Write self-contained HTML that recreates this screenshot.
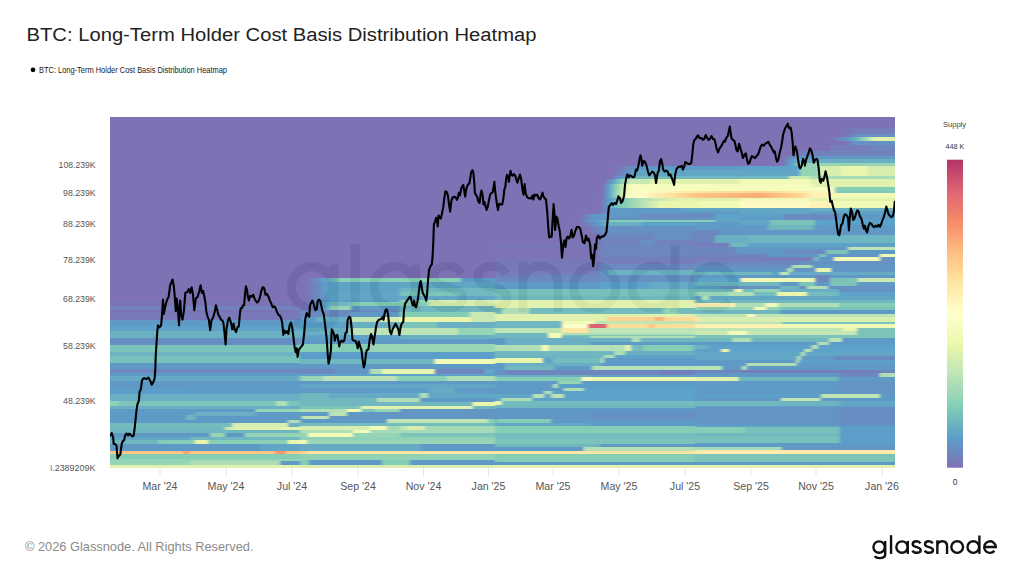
<!DOCTYPE html>
<html><head><meta charset="utf-8"><style>
html,body{margin:0;padding:0;background:#fff;}
body{width:1024px;height:576px;overflow:hidden;position:relative;font-family:"Liberation Sans",sans-serif;}
svg{position:absolute;left:0;top:0;}
</style></head><body>
<svg shape-rendering="auto" width="1024" height="576" viewBox="0 0 1024 576">
<defs><linearGradient id="g17" x1="0" x2="1" y1="0" y2="0"><stop offset="0.0000" stop-color="#3386bc"/><stop offset="0.4313" stop-color="#3386bc"/><stop offset="0.4405" stop-color="#3781ba"/><stop offset="1.0000" stop-color="#3781ba"/></linearGradient>
<linearGradient id="g19" x1="0" x2="1" y1="0" y2="0"><stop offset="0.0000" stop-color="#74c7a5"/><stop offset="0.0672" stop-color="#74c7a5"/><stop offset="0.0764" stop-color="#5cb6aa"/><stop offset="0.8723" stop-color="#5cb6aa"/><stop offset="0.8815" stop-color="#9dd8a4"/><stop offset="0.9287" stop-color="#9dd8a4"/><stop offset="0.9379" stop-color="#5cb6aa"/><stop offset="1.0000" stop-color="#5cb6aa"/></linearGradient>
<linearGradient id="g21" x1="0" x2="1" y1="0" y2="0"><stop offset="0.0000" stop-color="#3781ba"/><stop offset="0.7677" stop-color="#3781ba"/><stop offset="0.7769" stop-color="#7bcaa5"/><stop offset="1.0000" stop-color="#7bcaa5"/></linearGradient>
<linearGradient id="g22" x1="0" x2="1" y1="0" y2="0"><stop offset="0.0000" stop-color="#3781ba"/><stop offset="0.4569" stop-color="#3781ba"/><stop offset="0.4662" stop-color="#449cb5"/><stop offset="0.7677" stop-color="#449cb5"/><stop offset="0.7769" stop-color="#3781ba"/><stop offset="1.0000" stop-color="#3781ba"/></linearGradient>
<linearGradient id="g23" x1="0" x2="1" y1="0" y2="0"><stop offset="0.0000" stop-color="#3781ba"/><stop offset="0.4108" stop-color="#3781ba"/><stop offset="0.4200" stop-color="#4da6b0"/><stop offset="0.4569" stop-color="#4da6b0"/><stop offset="0.4662" stop-color="#449cb5"/><stop offset="0.7677" stop-color="#449cb5"/><stop offset="0.7769" stop-color="#3781ba"/><stop offset="1.0000" stop-color="#3781ba"/></linearGradient>
<linearGradient id="g24" x1="0" x2="1" y1="0" y2="0"><stop offset="0.0000" stop-color="#3781ba"/><stop offset="0.4108" stop-color="#3781ba"/><stop offset="0.4200" stop-color="#4da6b0"/><stop offset="0.4569" stop-color="#4da6b0"/><stop offset="0.4662" stop-color="#3781ba"/><stop offset="1.0000" stop-color="#3781ba"/></linearGradient>
<linearGradient id="g25" x1="0" x2="1" y1="0" y2="0"><stop offset="0.0000" stop-color="#3781ba"/><stop offset="0.9338" stop-color="#3781ba"/><stop offset="0.9431" stop-color="#9dd8a4"/><stop offset="1.0000" stop-color="#9dd8a4"/></linearGradient>
<linearGradient id="g26" x1="0" x2="1" y1="0" y2="0"><stop offset="0.0000" stop-color="#52acae"/><stop offset="0.6467" stop-color="#52acae"/><stop offset="0.6559" stop-color="#ceeb9d"/><stop offset="0.9338" stop-color="#ceeb9d"/><stop offset="0.9431" stop-color="#449cb5"/><stop offset="1.0000" stop-color="#449cb5"/></linearGradient>
<linearGradient id="g27" x1="0" x2="1" y1="0" y2="0"><stop offset="0.0000" stop-color="#4da6b0"/><stop offset="0.6108" stop-color="#4da6b0"/><stop offset="0.6200" stop-color="#bde4a0"/><stop offset="0.6518" stop-color="#bde4a0"/><stop offset="0.6610" stop-color="#daf09a"/><stop offset="1.0000" stop-color="#daf09a"/></linearGradient>
<linearGradient id="g29" x1="0" x2="1" y1="0" y2="0"><stop offset="0.0000" stop-color="#3781ba"/><stop offset="0.5338" stop-color="#3781ba"/><stop offset="0.5431" stop-color="#7bcaa5"/><stop offset="0.6108" stop-color="#7bcaa5"/><stop offset="0.6200" stop-color="#3781ba"/><stop offset="0.7133" stop-color="#3781ba"/><stop offset="0.7226" stop-color="#7bcaa5"/><stop offset="1.0000" stop-color="#7bcaa5"/></linearGradient>
<linearGradient id="g30" x1="0" x2="1" y1="0" y2="0"><stop offset="0.0000" stop-color="#3a91b9"/><stop offset="0.4313" stop-color="#3a91b9"/><stop offset="0.4405" stop-color="#4da6b0"/><stop offset="1.0000" stop-color="#4da6b0"/></linearGradient>
<linearGradient id="g31" x1="0" x2="1" y1="0" y2="0"><stop offset="0.0000" stop-color="#4da6b0"/><stop offset="0.2672" stop-color="#4da6b0"/><stop offset="0.2764" stop-color="#66c2a5"/><stop offset="0.4569" stop-color="#66c2a5"/><stop offset="0.4662" stop-color="#e7f599"/><stop offset="0.5236" stop-color="#e7f599"/><stop offset="0.5328" stop-color="#6dc5a5"/><stop offset="0.9338" stop-color="#6dc5a5"/><stop offset="0.9431" stop-color="#e7f599"/><stop offset="1.0000" stop-color="#e7f599"/></linearGradient>
<linearGradient id="g32" x1="0" x2="1" y1="0" y2="0"><stop offset="0.0000" stop-color="#3781ba"/><stop offset="0.8005" stop-color="#3781ba"/><stop offset="0.8097" stop-color="#3a91b9"/><stop offset="1.0000" stop-color="#3a91b9"/></linearGradient>
<linearGradient id="g33" x1="0" x2="1" y1="0" y2="0"><stop offset="0.0000" stop-color="#fdb869"/><stop offset="0.3954" stop-color="#fdb869"/><stop offset="0.4046" stop-color="#f8874f"/><stop offset="0.4262" stop-color="#f8874f"/><stop offset="0.4354" stop-color="#fdb869"/><stop offset="0.8672" stop-color="#fdb869"/><stop offset="0.8764" stop-color="#f67a49"/><stop offset="0.9236" stop-color="#f67a49"/><stop offset="0.9328" stop-color="#fdb869"/><stop offset="1.0000" stop-color="#fdb869"/></linearGradient>
<linearGradient id="g36" x1="0" x2="1" y1="0" y2="0"><stop offset="0.0000" stop-color="#7bcaa5"/><stop offset="0.4313" stop-color="#7bcaa5"/><stop offset="0.4405" stop-color="#9dd8a4"/><stop offset="0.8928" stop-color="#9dd8a4"/><stop offset="0.9021" stop-color="#3781ba"/><stop offset="1.0000" stop-color="#3781ba"/></linearGradient>
<linearGradient id="g38" x1="0" x2="1" y1="0" y2="0"><stop offset="0.0000" stop-color="#5e4fa2"/><stop offset="0.0317" stop-color="#4f62ab"/><stop offset="0.0634" stop-color="#4175b4"/><stop offset="0.0951" stop-color="#3288bd"/><stop offset="0.1268" stop-color="#449cb5"/><stop offset="0.1363" stop-color="#4da6b0"/><stop offset="0.1637" stop-color="#4da6b0"/><stop offset="0.1732" stop-color="#6dc5a5"/><stop offset="0.8163" stop-color="#6dc5a5"/><stop offset="0.8258" stop-color="#3781ba"/><stop offset="1.0000" stop-color="#3781ba"/></linearGradient>
<linearGradient id="g39" x1="0" x2="1" y1="0" y2="0"><stop offset="0.0000" stop-color="#5e4fa2"/><stop offset="0.0317" stop-color="#525ea9"/><stop offset="0.0634" stop-color="#476db0"/><stop offset="0.0951" stop-color="#3b7cb7"/><stop offset="0.1268" stop-color="#358cbb"/><stop offset="0.1363" stop-color="#388eba"/><stop offset="0.4953" stop-color="#388eba"/><stop offset="0.5047" stop-color="#3a91b9"/><stop offset="1.0000" stop-color="#3a91b9"/></linearGradient>
<linearGradient id="g40" x1="0" x2="1" y1="0" y2="0"><stop offset="0.0000" stop-color="#5e4fa2"/><stop offset="0.0317" stop-color="#525ea9"/><stop offset="0.0634" stop-color="#476db0"/><stop offset="0.0951" stop-color="#3b7cb7"/><stop offset="0.1268" stop-color="#358cbb"/><stop offset="0.1363" stop-color="#388eba"/><stop offset="0.4953" stop-color="#388eba"/><stop offset="0.5047" stop-color="#4da6b0"/><stop offset="1.0000" stop-color="#4da6b0"/></linearGradient>
<linearGradient id="g41" x1="0" x2="1" y1="0" y2="0"><stop offset="0.0000" stop-color="#5e4fa2"/><stop offset="0.0317" stop-color="#525ea9"/><stop offset="0.0634" stop-color="#476db0"/><stop offset="0.0951" stop-color="#3b7cb7"/><stop offset="0.1268" stop-color="#358cbb"/><stop offset="0.1363" stop-color="#3a91b9"/><stop offset="0.4953" stop-color="#3a91b9"/><stop offset="0.5047" stop-color="#5cb6aa"/><stop offset="0.8111" stop-color="#5cb6aa"/><stop offset="0.8205" stop-color="#4da6b0"/><stop offset="1.0000" stop-color="#4da6b0"/></linearGradient>
<linearGradient id="g42" x1="0" x2="1" y1="0" y2="0"><stop offset="0.0000" stop-color="#5e4fa2"/><stop offset="0.0317" stop-color="#525ea9"/><stop offset="0.0634" stop-color="#476db0"/><stop offset="0.0951" stop-color="#3b7cb7"/><stop offset="0.1268" stop-color="#358cbb"/><stop offset="0.1363" stop-color="#3a91b9"/><stop offset="0.4953" stop-color="#3a91b9"/><stop offset="0.5047" stop-color="#3a91b9"/><stop offset="1.0000" stop-color="#3a91b9"/></linearGradient>
<linearGradient id="g43" x1="0" x2="1" y1="0" y2="0"><stop offset="0.0000" stop-color="#5e4fa2"/><stop offset="0.0423" stop-color="#5160aa"/><stop offset="0.0846" stop-color="#4470b2"/><stop offset="0.1268" stop-color="#3781ba"/><stop offset="0.1363" stop-color="#358cbb"/><stop offset="0.4953" stop-color="#358cbb"/><stop offset="0.5047" stop-color="#7bcaa5"/><stop offset="0.6479" stop-color="#7bcaa5"/><stop offset="0.6574" stop-color="#ceeb9d"/><stop offset="1.0000" stop-color="#ceeb9d"/></linearGradient>
<linearGradient id="g44" x1="0" x2="1" y1="0" y2="0"><stop offset="0.0000" stop-color="#5e4fa2"/><stop offset="0.0317" stop-color="#4f62ab"/><stop offset="0.0634" stop-color="#4175b4"/><stop offset="0.0951" stop-color="#3288bd"/><stop offset="0.1268" stop-color="#449cb5"/><stop offset="0.1363" stop-color="#4da6b0"/><stop offset="0.2374" stop-color="#4da6b0"/><stop offset="0.2468" stop-color="#66c2a5"/><stop offset="0.6479" stop-color="#66c2a5"/><stop offset="0.6574" stop-color="#ceeb9d"/><stop offset="1.0000" stop-color="#ceeb9d"/></linearGradient>
<linearGradient id="g45" x1="0" x2="1" y1="0" y2="0"><stop offset="0.0000" stop-color="#5e4fa2"/><stop offset="0.0317" stop-color="#4f62ab"/><stop offset="0.0634" stop-color="#4175b4"/><stop offset="0.0951" stop-color="#3288bd"/><stop offset="0.1268" stop-color="#449cb5"/><stop offset="0.1363" stop-color="#7bcaa5"/><stop offset="0.2374" stop-color="#7bcaa5"/><stop offset="0.2468" stop-color="#3781ba"/><stop offset="0.4953" stop-color="#3781ba"/><stop offset="0.5047" stop-color="#4da6b0"/><stop offset="1.0000" stop-color="#4da6b0"/></linearGradient>
<linearGradient id="g46" x1="0" x2="1" y1="0" y2="0"><stop offset="0.0000" stop-color="#476db0"/><stop offset="0.5082" stop-color="#476db0"/><stop offset="0.5174" stop-color="#4da6b0"/><stop offset="1.0000" stop-color="#4da6b0"/></linearGradient>
<linearGradient id="g47" x1="0" x2="1" y1="0" y2="0"><stop offset="0.0000" stop-color="#476db0"/><stop offset="0.2518" stop-color="#476db0"/><stop offset="0.2610" stop-color="#3781ba"/><stop offset="0.5082" stop-color="#3781ba"/><stop offset="0.5174" stop-color="#66c2a5"/><stop offset="0.8672" stop-color="#66c2a5"/><stop offset="0.8764" stop-color="#bde4a0"/><stop offset="1.0000" stop-color="#bde4a0"/></linearGradient>
<linearGradient id="g48" x1="0" x2="1" y1="0" y2="0"><stop offset="0.0000" stop-color="#3781ba"/><stop offset="0.0774" stop-color="#3781ba"/><stop offset="0.0867" stop-color="#449cb5"/><stop offset="0.2518" stop-color="#449cb5"/><stop offset="0.2610" stop-color="#b1dfa3"/><stop offset="0.4159" stop-color="#b1dfa3"/><stop offset="0.4251" stop-color="#ceeb9d"/><stop offset="0.5082" stop-color="#ceeb9d"/><stop offset="0.5174" stop-color="#e7f599"/><stop offset="0.8723" stop-color="#e7f599"/><stop offset="0.8815" stop-color="#bde4a0"/><stop offset="1.0000" stop-color="#bde4a0"/></linearGradient>
<linearGradient id="g49" x1="0" x2="1" y1="0" y2="0"><stop offset="0.0000" stop-color="#358cbb"/><stop offset="0.2518" stop-color="#358cbb"/><stop offset="0.2610" stop-color="#449cb5"/><stop offset="0.5082" stop-color="#449cb5"/><stop offset="0.5174" stop-color="#5cb6aa"/><stop offset="0.6979" stop-color="#5cb6aa"/><stop offset="0.7072" stop-color="#449cb5"/><stop offset="1.0000" stop-color="#449cb5"/></linearGradient>
<linearGradient id="g50" x1="0" x2="1" y1="0" y2="0"><stop offset="0.0000" stop-color="#449cb5"/><stop offset="0.2518" stop-color="#449cb5"/><stop offset="0.2610" stop-color="#abdda4"/><stop offset="0.8056" stop-color="#abdda4"/><stop offset="0.8149" stop-color="#7bcaa5"/><stop offset="1.0000" stop-color="#7bcaa5"/></linearGradient>
<linearGradient id="g51" x1="0" x2="1" y1="0" y2="0"><stop offset="0.0000" stop-color="#358cbb"/><stop offset="0.5082" stop-color="#358cbb"/><stop offset="0.5174" stop-color="#449cb5"/><stop offset="1.0000" stop-color="#449cb5"/></linearGradient>
<linearGradient id="g53" x1="0" x2="1" y1="0" y2="0"><stop offset="0.0000" stop-color="#66c2a5"/><stop offset="0.3544" stop-color="#66c2a5"/><stop offset="0.3636" stop-color="#82cda5"/><stop offset="1.0000" stop-color="#82cda5"/></linearGradient>
<linearGradient id="g55" x1="0" x2="1" y1="0" y2="0"><stop offset="0.0000" stop-color="#4da6b0"/><stop offset="0.6856" stop-color="#4da6b0"/><stop offset="0.6949" stop-color="#eff9a6"/><stop offset="1.0000" stop-color="#eff9a6"/></linearGradient>
<linearGradient id="g57" x1="0" x2="1" y1="0" y2="0"><stop offset="0.0000" stop-color="#4b68ae"/><stop offset="0.1749" stop-color="#4b68ae"/><stop offset="0.1841" stop-color="#3b7cb7"/><stop offset="0.3544" stop-color="#3b7cb7"/><stop offset="0.3636" stop-color="#9dd8a4"/><stop offset="0.4159" stop-color="#9dd8a4"/><stop offset="0.4251" stop-color="#e1f399"/><stop offset="0.6856" stop-color="#e1f399"/><stop offset="0.6949" stop-color="#4b68ae"/><stop offset="0.9410" stop-color="#4b68ae"/><stop offset="0.9503" stop-color="#3a91b9"/><stop offset="1.0000" stop-color="#3a91b9"/></linearGradient>
<linearGradient id="g59" x1="0" x2="1" y1="0" y2="0"><stop offset="0.0000" stop-color="#7bcaa5"/><stop offset="0.1133" stop-color="#7bcaa5"/><stop offset="0.1226" stop-color="#abdda4"/><stop offset="0.4928" stop-color="#abdda4"/><stop offset="0.5021" stop-color="#6dc5a5"/><stop offset="0.7492" stop-color="#6dc5a5"/><stop offset="0.7585" stop-color="#9dd8a4"/><stop offset="1.0000" stop-color="#9dd8a4"/></linearGradient>
<linearGradient id="g62" x1="0" x2="1" y1="0" y2="0"><stop offset="0.0000" stop-color="#3781ba"/><stop offset="0.3544" stop-color="#3781ba"/><stop offset="0.3636" stop-color="#3386bc"/><stop offset="0.6621" stop-color="#3386bc"/><stop offset="0.6713" stop-color="#3f96b7"/><stop offset="0.7903" stop-color="#3f96b7"/><stop offset="0.7995" stop-color="#3781ba"/><stop offset="1.0000" stop-color="#3781ba"/></linearGradient>
<linearGradient id="g63" x1="0" x2="1" y1="0" y2="0"><stop offset="0.0000" stop-color="#4da6b0"/><stop offset="0.1441" stop-color="#4da6b0"/><stop offset="0.1533" stop-color="#3f96b7"/><stop offset="0.6108" stop-color="#3f96b7"/><stop offset="0.6200" stop-color="#9dd8a4"/><stop offset="0.6518" stop-color="#9dd8a4"/><stop offset="0.6610" stop-color="#3a91b9"/><stop offset="1.0000" stop-color="#3a91b9"/></linearGradient>
<linearGradient id="g64" x1="0" x2="1" y1="0" y2="0"><stop offset="0.0000" stop-color="#4da6b0"/><stop offset="0.3903" stop-color="#4da6b0"/><stop offset="0.3995" stop-color="#9dd8a4"/><stop offset="0.6108" stop-color="#9dd8a4"/><stop offset="0.6200" stop-color="#3781ba"/><stop offset="1.0000" stop-color="#3781ba"/></linearGradient>
<linearGradient id="g65" x1="0" x2="1" y1="0" y2="0"><stop offset="0.0000" stop-color="#4da6b0"/><stop offset="0.8810" stop-color="#4da6b0"/><stop offset="0.8903" stop-color="#e7f599"/><stop offset="1.0000" stop-color="#e7f599"/></linearGradient>
<linearGradient id="g66" x1="0" x2="1" y1="0" y2="0"><stop offset="0.0000" stop-color="#5cb6aa"/><stop offset="0.3082" stop-color="#5cb6aa"/><stop offset="0.3174" stop-color="#daf09a"/><stop offset="0.8810" stop-color="#daf09a"/><stop offset="0.8903" stop-color="#4da6b0"/><stop offset="1.0000" stop-color="#4da6b0"/></linearGradient>
<linearGradient id="g67" x1="0" x2="1" y1="0" y2="0"><stop offset="0.0000" stop-color="#9dd8a4"/><stop offset="0.2364" stop-color="#9dd8a4"/><stop offset="0.2456" stop-color="#eff9a6"/><stop offset="0.3082" stop-color="#eff9a6"/><stop offset="0.3174" stop-color="#5cb6aa"/><stop offset="0.3800" stop-color="#5cb6aa"/><stop offset="0.3892" stop-color="#7bcaa5"/><stop offset="0.5082" stop-color="#7bcaa5"/><stop offset="0.5174" stop-color="#3b7cb7"/><stop offset="1.0000" stop-color="#3b7cb7"/></linearGradient>
<linearGradient id="g68" x1="0" x2="1" y1="0" y2="0"><stop offset="0.0000" stop-color="#3781ba"/><stop offset="0.1441" stop-color="#3781ba"/><stop offset="0.1533" stop-color="#abdda4"/><stop offset="0.2364" stop-color="#abdda4"/><stop offset="0.2456" stop-color="#3b7cb7"/><stop offset="1.0000" stop-color="#3b7cb7"/></linearGradient>
<linearGradient id="g69" x1="0" x2="1" y1="0" y2="0"><stop offset="0.0000" stop-color="#3781ba"/><stop offset="0.0056" stop-color="#3781ba"/><stop offset="0.0149" stop-color="#b1dfa3"/><stop offset="0.1441" stop-color="#b1dfa3"/><stop offset="0.1533" stop-color="#3b7cb7"/><stop offset="1.0000" stop-color="#3b7cb7"/></linearGradient>
<linearGradient id="g70" x1="0" x2="1" y1="0" y2="0"><stop offset="0.0000" stop-color="#3781ba"/><stop offset="0.4415" stop-color="#3781ba"/><stop offset="0.4508" stop-color="#b1dfa3"/><stop offset="0.9595" stop-color="#b1dfa3"/><stop offset="0.9687" stop-color="#66c2a5"/><stop offset="1.0000" stop-color="#66c2a5"/></linearGradient>
<linearGradient id="g72" x1="0" x2="1" y1="0" y2="0"><stop offset="0.0000" stop-color="#ceeb9d"/><stop offset="0.3544" stop-color="#ceeb9d"/><stop offset="0.3636" stop-color="#eff9a6"/><stop offset="0.4415" stop-color="#eff9a6"/><stop offset="0.4508" stop-color="#8fd2a4"/><stop offset="0.5082" stop-color="#8fd2a4"/><stop offset="0.5174" stop-color="#b1dfa3"/><stop offset="0.5441" stop-color="#b1dfa3"/><stop offset="0.5533" stop-color="#ceeb9d"/><stop offset="0.6364" stop-color="#ceeb9d"/><stop offset="0.6456" stop-color="#8fd2a4"/><stop offset="1.0000" stop-color="#8fd2a4"/></linearGradient>
<linearGradient id="g73" x1="0" x2="1" y1="0" y2="0"><stop offset="0.0000" stop-color="#9dd8a4"/><stop offset="0.2672" stop-color="#9dd8a4"/><stop offset="0.2764" stop-color="#eff9a6"/><stop offset="0.3544" stop-color="#eff9a6"/><stop offset="0.3636" stop-color="#8fd2a4"/><stop offset="1.0000" stop-color="#8fd2a4"/></linearGradient>
<linearGradient id="g74" x1="0" x2="1" y1="0" y2="0"><stop offset="0.0000" stop-color="#7bcaa5"/><stop offset="0.0364" stop-color="#7bcaa5"/><stop offset="0.0456" stop-color="#eff9a6"/><stop offset="0.2672" stop-color="#eff9a6"/><stop offset="0.2764" stop-color="#7bcaa5"/><stop offset="0.5082" stop-color="#7bcaa5"/><stop offset="0.5174" stop-color="#5cb6aa"/><stop offset="1.0000" stop-color="#5cb6aa"/></linearGradient>
<linearGradient id="g76" x1="0" x2="1" y1="0" y2="0"><stop offset="0.0000" stop-color="#eff9a6"/><stop offset="0.0313" stop-color="#eff9a6"/><stop offset="0.0405" stop-color="#82cda5"/><stop offset="1.0000" stop-color="#82cda5"/></linearGradient>
<linearGradient id="g77" x1="0" x2="1" y1="0" y2="0"><stop offset="0.0000" stop-color="#3f96b7"/><stop offset="0.6159" stop-color="#3f96b7"/><stop offset="0.6251" stop-color="#3781ba"/><stop offset="1.0000" stop-color="#3781ba"/></linearGradient>
<linearGradient id="g78" x1="0" x2="1" y1="0" y2="0"><stop offset="0.0000" stop-color="#fdc272"/><stop offset="0.0313" stop-color="#fdc272"/><stop offset="0.0405" stop-color="#fee08b"/><stop offset="1.0000" stop-color="#fee08b"/></linearGradient>
<linearGradient id="g80" x1="0" x2="1" y1="0" y2="0"><stop offset="0.0000" stop-color="#66c2a5"/><stop offset="0.0415" stop-color="#66c2a5"/><stop offset="0.0508" stop-color="#3781ba"/><stop offset="0.4159" stop-color="#3781ba"/><stop offset="0.4251" stop-color="#66c2a5"/><stop offset="0.5595" stop-color="#66c2a5"/><stop offset="0.5687" stop-color="#3781ba"/><stop offset="1.0000" stop-color="#3781ba"/></linearGradient>
<linearGradient id="g82" x1="0" x2="1" y1="0" y2="0"><stop offset="0.0000" stop-color="#5e4fa2"/><stop offset="0.3183" stop-color="#525ea9"/><stop offset="0.3483" stop-color="#525ea9"/><stop offset="1.0000" stop-color="#525ea9"/></linearGradient>
<linearGradient id="g83" x1="0" x2="1" y1="0" y2="0"><stop offset="0.0000" stop-color="#5e4fa2"/><stop offset="0.0673" stop-color="#545ca8"/><stop offset="0.1345" stop-color="#496aaf"/><stop offset="0.2018" stop-color="#3f77b5"/><stop offset="0.2345" stop-color="#3f77b5"/><stop offset="1.0000" stop-color="#3f77b5"/></linearGradient>
<linearGradient id="g84" x1="0" x2="1" y1="0" y2="0"><stop offset="0.0000" stop-color="#5e4fa2"/><stop offset="0.0596" stop-color="#525ea9"/><stop offset="0.1191" stop-color="#476db0"/><stop offset="0.1456" stop-color="#476db0"/><stop offset="0.2054" stop-color="#3b7cb7"/><stop offset="0.2652" stop-color="#358cbb"/><stop offset="0.3250" stop-color="#449cb5"/><stop offset="0.3515" stop-color="#449cb5"/><stop offset="0.3868" stop-color="#54aead"/><stop offset="0.4221" stop-color="#64c0a6"/><stop offset="0.4574" stop-color="#7bcaa5"/><stop offset="0.4838" stop-color="#7bcaa5"/><stop offset="0.5176" stop-color="#95d4a4"/><stop offset="0.5515" stop-color="#aedea3"/><stop offset="0.5853" stop-color="#c4e79f"/><stop offset="0.6191" stop-color="#daf09a"/><stop offset="0.6456" stop-color="#daf09a"/><stop offset="1.0000" stop-color="#daf09a"/></linearGradient>
<linearGradient id="g85" x1="0" x2="1" y1="0" y2="0"><stop offset="0.0000" stop-color="#5e4fa2"/><stop offset="0.0552" stop-color="#545ca8"/><stop offset="0.1103" stop-color="#496aaf"/><stop offset="0.1655" stop-color="#3f77b5"/><stop offset="0.1982" stop-color="#3f77b5"/><stop offset="1.0000" stop-color="#3f77b5"/></linearGradient>
<linearGradient id="g86" x1="0" x2="1" y1="0" y2="0"><stop offset="0.0000" stop-color="#525ea9"/><stop offset="0.5586" stop-color="#525ea9"/><stop offset="0.5843" stop-color="#4b68ae"/><stop offset="1.0000" stop-color="#4b68ae"/></linearGradient>
<linearGradient id="g88" x1="0" x2="1" y1="0" y2="0"><stop offset="0.0000" stop-color="#5e4fa2"/><stop offset="0.0398" stop-color="#5160aa"/><stop offset="0.0797" stop-color="#4470b2"/><stop offset="0.1195" stop-color="#3781ba"/><stop offset="0.1347" stop-color="#3781ba"/><stop offset="1.0000" stop-color="#3781ba"/></linearGradient>
<linearGradient id="g89" x1="0" x2="1" y1="0" y2="0"><stop offset="0.0000" stop-color="#5e4fa2"/><stop offset="0.0299" stop-color="#4f62ab"/><stop offset="0.0597" stop-color="#4175b4"/><stop offset="0.0896" stop-color="#3288bd"/><stop offset="0.1195" stop-color="#449cb5"/><stop offset="0.1347" stop-color="#449cb5"/><stop offset="1.0000" stop-color="#449cb5"/></linearGradient>
<linearGradient id="g90" x1="0" x2="1" y1="0" y2="0"><stop offset="0.0000" stop-color="#5e4fa2"/><stop offset="0.0242" stop-color="#5061ab"/><stop offset="0.0483" stop-color="#4274b3"/><stop offset="0.0725" stop-color="#3386bc"/><stop offset="0.0966" stop-color="#429ab6"/><stop offset="0.1208" stop-color="#54aead"/><stop offset="0.1449" stop-color="#66c2a5"/><stop offset="0.1602" stop-color="#7bcaa5"/><stop offset="1.0000" stop-color="#7bcaa5"/></linearGradient>
<linearGradient id="g91" x1="0" x2="1" y1="0" y2="0"><stop offset="0.0000" stop-color="#5e4fa2"/><stop offset="0.0282" stop-color="#5160aa"/><stop offset="0.0564" stop-color="#4470b2"/><stop offset="0.0846" stop-color="#3781ba"/><stop offset="0.0909" stop-color="#3781ba"/><stop offset="0.4354" stop-color="#3781ba"/><stop offset="0.4418" stop-color="#358cbb"/><stop offset="0.6460" stop-color="#358cbb"/><stop offset="0.6523" stop-color="#7bcaa5"/><stop offset="0.7126" stop-color="#7bcaa5"/><stop offset="0.7189" stop-color="#ceeb9d"/><stop offset="0.7898" stop-color="#ceeb9d"/><stop offset="0.7961" stop-color="#e7f599"/><stop offset="0.8811" stop-color="#e7f599"/><stop offset="0.8874" stop-color="#ceeb9d"/><stop offset="1.0000" stop-color="#ceeb9d"/></linearGradient>
<linearGradient id="g92" x1="0" x2="1" y1="0" y2="0"><stop offset="0.0000" stop-color="#5e4fa2"/><stop offset="0.0235" stop-color="#515faa"/><stop offset="0.0470" stop-color="#4570b1"/><stop offset="0.0706" stop-color="#3880b9"/><stop offset="0.0941" stop-color="#3a91b9"/><stop offset="0.1003" stop-color="#3a91b9"/><stop offset="0.4413" stop-color="#3a91b9"/><stop offset="0.4476" stop-color="#3a91b9"/><stop offset="0.6497" stop-color="#3a91b9"/><stop offset="0.6559" stop-color="#7bcaa5"/><stop offset="0.7156" stop-color="#7bcaa5"/><stop offset="0.7219" stop-color="#ceeb9d"/><stop offset="0.7920" stop-color="#ceeb9d"/><stop offset="0.7983" stop-color="#e7f599"/><stop offset="0.8823" stop-color="#e7f599"/><stop offset="0.8885" stop-color="#ceeb9d"/><stop offset="1.0000" stop-color="#ceeb9d"/></linearGradient>
<linearGradient id="g93" x1="0" x2="1" y1="0" y2="0"><stop offset="0.0000" stop-color="#5e4fa2"/><stop offset="0.0147" stop-color="#4f62ab"/><stop offset="0.0295" stop-color="#4175b4"/><stop offset="0.0442" stop-color="#3288bd"/><stop offset="0.0590" stop-color="#449cb5"/><stop offset="0.0652" stop-color="#4da6b0"/><stop offset="0.4452" stop-color="#4da6b0"/><stop offset="0.4514" stop-color="#4da6b0"/><stop offset="0.6141" stop-color="#4da6b0"/><stop offset="0.6203" stop-color="#bde4a0"/><stop offset="0.6866" stop-color="#bde4a0"/><stop offset="0.6928" stop-color="#96d5a4"/><stop offset="1.0000" stop-color="#96d5a4"/></linearGradient>
<linearGradient id="g94" x1="0" x2="1" y1="0" y2="0"><stop offset="0.0000" stop-color="#5e4fa2"/><stop offset="0.0094" stop-color="#5061ab"/><stop offset="0.0188" stop-color="#4274b3"/><stop offset="0.0283" stop-color="#3386bc"/><stop offset="0.0377" stop-color="#429ab6"/><stop offset="0.0471" stop-color="#54aead"/><stop offset="0.0565" stop-color="#66c2a5"/><stop offset="0.0660" stop-color="#7fcca5"/><stop offset="0.0754" stop-color="#99d6a4"/><stop offset="0.0848" stop-color="#b1dfa3"/><stop offset="0.0909" stop-color="#bde4a0"/><stop offset="0.1524" stop-color="#bde4a0"/><stop offset="0.1584" stop-color="#daf09a"/><stop offset="0.4564" stop-color="#daf09a"/><stop offset="0.4625" stop-color="#eff9a6"/><stop offset="0.6929" stop-color="#eff9a6"/><stop offset="0.6990" stop-color="#daf09a"/><stop offset="1.0000" stop-color="#daf09a"/></linearGradient>
<linearGradient id="g95" x1="0" x2="1" y1="0" y2="0"><stop offset="0.0000" stop-color="#5e4fa2"/><stop offset="0.0076" stop-color="#4f62ab"/><stop offset="0.0152" stop-color="#4175b4"/><stop offset="0.0227" stop-color="#3288bd"/><stop offset="0.0303" stop-color="#449cb5"/><stop offset="0.0379" stop-color="#56b0ad"/><stop offset="0.0455" stop-color="#69c3a5"/><stop offset="0.0530" stop-color="#83cda5"/><stop offset="0.0606" stop-color="#9dd8a4"/><stop offset="0.0682" stop-color="#b5e1a2"/><stop offset="0.0758" stop-color="#cbea9d"/><stop offset="0.0834" stop-color="#e3f499"/><stop offset="0.0909" stop-color="#eff9a6"/><stop offset="0.0970" stop-color="#f5fbaf"/><stop offset="0.7050" stop-color="#f5fbaf"/><stop offset="0.7111" stop-color="#daf09a"/><stop offset="1.0000" stop-color="#daf09a"/></linearGradient>
<linearGradient id="g96" x1="0" x2="1" y1="0" y2="0"><stop offset="0.0000" stop-color="#5e4fa2"/><stop offset="0.0076" stop-color="#4f62ab"/><stop offset="0.0152" stop-color="#4175b4"/><stop offset="0.0227" stop-color="#3288bd"/><stop offset="0.0303" stop-color="#449cb5"/><stop offset="0.0379" stop-color="#56b0ad"/><stop offset="0.0455" stop-color="#69c3a5"/><stop offset="0.0530" stop-color="#83cda5"/><stop offset="0.0606" stop-color="#9dd8a4"/><stop offset="0.0682" stop-color="#b5e1a2"/><stop offset="0.0758" stop-color="#cbea9d"/><stop offset="0.0834" stop-color="#e3f499"/><stop offset="0.0909" stop-color="#eff9a6"/><stop offset="0.0970" stop-color="#f5fbaf"/><stop offset="0.7789" stop-color="#f5fbaf"/><stop offset="0.7849" stop-color="#66c2a5"/><stop offset="1.0000" stop-color="#66c2a5"/></linearGradient>
<linearGradient id="g97" x1="0" x2="1" y1="0" y2="0"><stop offset="0.0000" stop-color="#5e4fa2"/><stop offset="0.0070" stop-color="#5062ab"/><stop offset="0.0140" stop-color="#4174b4"/><stop offset="0.0210" stop-color="#3387bc"/><stop offset="0.0280" stop-color="#439ab5"/><stop offset="0.0350" stop-color="#54aead"/><stop offset="0.0420" stop-color="#67c2a5"/><stop offset="0.0490" stop-color="#81cca5"/><stop offset="0.0560" stop-color="#9ad6a4"/><stop offset="0.0630" stop-color="#b2e0a3"/><stop offset="0.0700" stop-color="#c8e99e"/><stop offset="0.0769" stop-color="#def29a"/><stop offset="0.0839" stop-color="#edf8a3"/><stop offset="0.0909" stop-color="#f8fcb4"/><stop offset="0.0970" stop-color="#f8fcb4"/><stop offset="0.1443" stop-color="#fffebd"/><stop offset="0.1916" stop-color="#fff3ab"/><stop offset="0.1977" stop-color="#fff3ab"/><stop offset="0.2617" stop-color="#fee99b"/><stop offset="0.3258" stop-color="#fee08b"/><stop offset="0.3319" stop-color="#fee08b"/><stop offset="0.5272" stop-color="#fecc7a"/><stop offset="0.5332" stop-color="#fecc7a"/><stop offset="0.5973" stop-color="#fedb87"/><stop offset="0.6614" stop-color="#fee695"/><stop offset="0.6674" stop-color="#fee695"/><stop offset="0.7232" stop-color="#feefa5"/><stop offset="0.7789" stop-color="#fffab7"/><stop offset="0.7849" stop-color="#61bca7"/><stop offset="1.0000" stop-color="#61bca7"/></linearGradient>
<linearGradient id="g98" x1="0" x2="1" y1="0" y2="0"><stop offset="0.0000" stop-color="#5e4fa2"/><stop offset="0.0070" stop-color="#5062ab"/><stop offset="0.0140" stop-color="#4174b4"/><stop offset="0.0210" stop-color="#3387bc"/><stop offset="0.0280" stop-color="#439ab5"/><stop offset="0.0350" stop-color="#54aead"/><stop offset="0.0420" stop-color="#67c2a5"/><stop offset="0.0490" stop-color="#81cca5"/><stop offset="0.0560" stop-color="#9ad6a4"/><stop offset="0.0630" stop-color="#b2e0a3"/><stop offset="0.0700" stop-color="#c8e99e"/><stop offset="0.0769" stop-color="#def29a"/><stop offset="0.0839" stop-color="#edf8a3"/><stop offset="0.0909" stop-color="#f8fcb4"/><stop offset="0.0970" stop-color="#f8fcb4"/><stop offset="0.1285" stop-color="#fffcbb"/><stop offset="0.1601" stop-color="#fff1a7"/><stop offset="0.1916" stop-color="#fee695"/><stop offset="0.1977" stop-color="#fee695"/><stop offset="0.2404" stop-color="#fed884"/><stop offset="0.2831" stop-color="#fdc575"/><stop offset="0.3258" stop-color="#fdb365"/><stop offset="0.3319" stop-color="#fdb365"/><stop offset="0.5272" stop-color="#fa9a58"/><stop offset="0.5332" stop-color="#fa9a58"/><stop offset="0.5760" stop-color="#fdae61"/><stop offset="0.6187" stop-color="#fdbd6e"/><stop offset="0.6614" stop-color="#fecc7a"/><stop offset="0.6674" stop-color="#fecc7a"/><stop offset="0.6862" stop-color="#fee08b"/><stop offset="0.7050" stop-color="#feeca0"/><stop offset="0.7111" stop-color="#feefa5"/><stop offset="0.7654" stop-color="#feefa5"/><stop offset="0.7715" stop-color="#eff9a6"/><stop offset="1.0000" stop-color="#eff9a6"/></linearGradient>
<linearGradient id="g99" x1="0" x2="1" y1="0" y2="0"><stop offset="0.0000" stop-color="#5e4fa2"/><stop offset="0.0117" stop-color="#4f62ab"/><stop offset="0.0235" stop-color="#4175b4"/><stop offset="0.0353" stop-color="#3288bd"/><stop offset="0.0470" stop-color="#449cb5"/><stop offset="0.0530" stop-color="#449cb5"/><stop offset="0.0723" stop-color="#56b0ad"/><stop offset="0.0917" stop-color="#69c3a5"/><stop offset="0.1110" stop-color="#83cda5"/><stop offset="0.1303" stop-color="#9dd8a4"/><stop offset="0.1363" stop-color="#9dd8a4"/><stop offset="0.1788" stop-color="#b3e0a2"/><stop offset="0.2212" stop-color="#c7e89e"/><stop offset="0.2637" stop-color="#daf09a"/><stop offset="0.2697" stop-color="#daf09a"/><stop offset="0.4637" stop-color="#daf09a"/><stop offset="0.4697" stop-color="#eff9a6"/><stop offset="0.6970" stop-color="#eff9a6"/><stop offset="0.7030" stop-color="#daf09a"/><stop offset="1.0000" stop-color="#daf09a"/></linearGradient>
<linearGradient id="g100" x1="0" x2="1" y1="0" y2="0"><stop offset="0.0000" stop-color="#5e4fa2"/><stop offset="0.0094" stop-color="#5061ab"/><stop offset="0.0188" stop-color="#4273b3"/><stop offset="0.0282" stop-color="#3485bc"/><stop offset="0.0376" stop-color="#4199b6"/><stop offset="0.0470" stop-color="#52acae"/><stop offset="0.0530" stop-color="#52acae"/><stop offset="0.0770" stop-color="#64c0a6"/><stop offset="0.1010" stop-color="#7dcba5"/><stop offset="0.1250" stop-color="#96d5a4"/><stop offset="0.1490" stop-color="#afdfa3"/><stop offset="0.1730" stop-color="#c5e79f"/><stop offset="0.1970" stop-color="#daf09a"/><stop offset="0.2030" stop-color="#e7f599"/><stop offset="0.3303" stop-color="#e7f599"/><stop offset="0.3363" stop-color="#eff9a6"/><stop offset="0.4637" stop-color="#eff9a6"/><stop offset="0.4697" stop-color="#fffab7"/><stop offset="0.6970" stop-color="#fffab7"/><stop offset="0.7030" stop-color="#feefa5"/><stop offset="0.7670" stop-color="#feefa5"/><stop offset="0.7730" stop-color="#eff9a6"/><stop offset="1.0000" stop-color="#eff9a6"/></linearGradient>
<linearGradient id="g101" x1="0" x2="1" y1="0" y2="0"><stop offset="0.0000" stop-color="#5e4fa2"/><stop offset="0.0094" stop-color="#5061ab"/><stop offset="0.0188" stop-color="#4273b3"/><stop offset="0.0282" stop-color="#3485bc"/><stop offset="0.0376" stop-color="#4199b6"/><stop offset="0.0470" stop-color="#52acae"/><stop offset="0.0530" stop-color="#52acae"/><stop offset="0.0770" stop-color="#64c0a6"/><stop offset="0.1010" stop-color="#7dcba5"/><stop offset="0.1250" stop-color="#96d5a4"/><stop offset="0.1490" stop-color="#afdfa3"/><stop offset="0.1730" stop-color="#c5e79f"/><stop offset="0.1970" stop-color="#daf09a"/><stop offset="0.2030" stop-color="#e7f599"/><stop offset="0.3303" stop-color="#e7f599"/><stop offset="0.3363" stop-color="#eff9a6"/><stop offset="0.4637" stop-color="#eff9a6"/><stop offset="0.4697" stop-color="#fffab7"/><stop offset="0.6970" stop-color="#fffab7"/><stop offset="0.7030" stop-color="#feefa5"/><stop offset="0.7670" stop-color="#feefa5"/><stop offset="0.7730" stop-color="#eff9a6"/><stop offset="1.0000" stop-color="#eff9a6"/></linearGradient>
<linearGradient id="g102" x1="0" x2="1" y1="0" y2="0"><stop offset="0.0000" stop-color="#5e4fa2"/><stop offset="0.0215" stop-color="#525ea9"/><stop offset="0.0431" stop-color="#476db0"/><stop offset="0.0490" stop-color="#3781ba"/><stop offset="0.2734" stop-color="#3781ba"/><stop offset="0.2793" stop-color="#3a91b9"/><stop offset="0.4707" stop-color="#3a91b9"/><stop offset="0.4766" stop-color="#3a91b9"/><stop offset="0.7010" stop-color="#3a91b9"/><stop offset="0.7069" stop-color="#449cb5"/><stop offset="1.0000" stop-color="#449cb5"/></linearGradient>
<linearGradient id="g103" x1="0" x2="1" y1="0" y2="0"><stop offset="0.0000" stop-color="#5e4fa2"/><stop offset="0.0215" stop-color="#525ea9"/><stop offset="0.0431" stop-color="#476db0"/><stop offset="0.0490" stop-color="#3781ba"/><stop offset="0.4707" stop-color="#3781ba"/><stop offset="0.4766" stop-color="#3a91b9"/><stop offset="0.7010" stop-color="#3a91b9"/><stop offset="0.7069" stop-color="#358cbb"/><stop offset="1.0000" stop-color="#358cbb"/></linearGradient>
<linearGradient id="g104" x1="0" x2="1" y1="0" y2="0"><stop offset="0.0000" stop-color="#5e4fa2"/><stop offset="0.0147" stop-color="#5160aa"/><stop offset="0.0294" stop-color="#4470b2"/><stop offset="0.0441" stop-color="#3781ba"/><stop offset="0.0497" stop-color="#3781ba"/><stop offset="0.1847" stop-color="#3781ba"/><stop offset="0.1903" stop-color="#476db0"/><stop offset="0.4191" stop-color="#476db0"/><stop offset="0.4247" stop-color="#358cbb"/><stop offset="0.6347" stop-color="#358cbb"/><stop offset="0.6403" stop-color="#476db0"/><stop offset="0.8097" stop-color="#476db0"/><stop offset="0.8153" stop-color="#3781ba"/><stop offset="1.0000" stop-color="#3781ba"/></linearGradient>
<linearGradient id="g105" x1="0" x2="1" y1="0" y2="0"><stop offset="0.0000" stop-color="#5e4fa2"/><stop offset="0.0147" stop-color="#5160aa"/><stop offset="0.0294" stop-color="#4470b2"/><stop offset="0.0441" stop-color="#3781ba"/><stop offset="0.0497" stop-color="#3f77b5"/><stop offset="0.4191" stop-color="#3f77b5"/><stop offset="0.4247" stop-color="#3a91b9"/><stop offset="0.4972" stop-color="#3a91b9"/><stop offset="0.5028" stop-color="#3781ba"/><stop offset="0.6347" stop-color="#3781ba"/><stop offset="0.6403" stop-color="#476db0"/><stop offset="0.8097" stop-color="#476db0"/><stop offset="0.8153" stop-color="#3781ba"/><stop offset="1.0000" stop-color="#3781ba"/></linearGradient>
<linearGradient id="g106" x1="0" x2="1" y1="0" y2="0"><stop offset="0.0000" stop-color="#5e4fa2"/><stop offset="0.0201" stop-color="#5061aa"/><stop offset="0.0402" stop-color="#4372b3"/><stop offset="0.0602" stop-color="#3584bb"/><stop offset="0.0803" stop-color="#3f96b7"/><stop offset="0.0858" stop-color="#449cb5"/><stop offset="0.0988" stop-color="#449cb5"/><stop offset="0.1043" stop-color="#66c2a5"/><stop offset="0.4280" stop-color="#66c2a5"/><stop offset="0.4335" stop-color="#3a91b9"/><stop offset="0.5972" stop-color="#3a91b9"/><stop offset="0.6028" stop-color="#5cb6aa"/><stop offset="0.7357" stop-color="#5cb6aa"/><stop offset="0.7412" stop-color="#358cbb"/><stop offset="1.0000" stop-color="#358cbb"/></linearGradient>
<linearGradient id="g107" x1="0" x2="1" y1="0" y2="0"><stop offset="0.0000" stop-color="#5e4fa2"/><stop offset="0.0201" stop-color="#5061aa"/><stop offset="0.0402" stop-color="#4372b3"/><stop offset="0.0602" stop-color="#3584bb"/><stop offset="0.0803" stop-color="#3f96b7"/><stop offset="0.0858" stop-color="#449cb5"/><stop offset="0.0988" stop-color="#449cb5"/><stop offset="0.1043" stop-color="#52acae"/><stop offset="0.1972" stop-color="#52acae"/><stop offset="0.2028" stop-color="#3781ba"/><stop offset="0.5049" stop-color="#3781ba"/><stop offset="0.5105" stop-color="#3a91b9"/><stop offset="0.5972" stop-color="#3a91b9"/><stop offset="0.6028" stop-color="#5cb6aa"/><stop offset="0.7357" stop-color="#5cb6aa"/><stop offset="0.7412" stop-color="#358cbb"/><stop offset="1.0000" stop-color="#358cbb"/></linearGradient>
<linearGradient id="g108" x1="0" x2="1" y1="0" y2="0"><stop offset="0.0000" stop-color="#5e4fa2"/><stop offset="0.0152" stop-color="#545ca8"/><stop offset="0.0303" stop-color="#496aaf"/><stop offset="0.0455" stop-color="#3f77b5"/><stop offset="0.0513" stop-color="#3781ba"/><stop offset="1.0000" stop-color="#3781ba"/></linearGradient>
<linearGradient id="g109" x1="0" x2="1" y1="0" y2="0"><stop offset="0.0000" stop-color="#5e4fa2"/><stop offset="0.4205" stop-color="#5e4fa2"/><stop offset="0.4295" stop-color="#5e4fa2"/><stop offset="0.4585" stop-color="#515faa"/><stop offset="0.4875" stop-color="#4570b1"/><stop offset="0.5165" stop-color="#3880b9"/><stop offset="0.5455" stop-color="#3a91b9"/><stop offset="0.5545" stop-color="#449cb5"/><stop offset="0.7305" stop-color="#449cb5"/><stop offset="0.7395" stop-color="#358cbb"/><stop offset="1.0000" stop-color="#358cbb"/></linearGradient>
<linearGradient id="g110" x1="0" x2="1" y1="0" y2="0"><stop offset="0.0000" stop-color="#5e4fa2"/><stop offset="0.4455" stop-color="#5e4fa2"/><stop offset="0.4545" stop-color="#5e4fa2"/><stop offset="0.4848" stop-color="#545ca8"/><stop offset="0.5152" stop-color="#496aaf"/><stop offset="0.5455" stop-color="#3f77b5"/><stop offset="0.5545" stop-color="#3f77b5"/><stop offset="1.0000" stop-color="#3f77b5"/></linearGradient>
<linearGradient id="g111" x1="0" x2="1" y1="0" y2="0"><stop offset="0.0000" stop-color="#5e4fa2"/><stop offset="0.5205" stop-color="#5e4fa2"/><stop offset="0.5295" stop-color="#4b68ae"/><stop offset="0.7905" stop-color="#4b68ae"/><stop offset="0.7995" stop-color="#3f77b5"/><stop offset="0.9705" stop-color="#3f77b5"/><stop offset="0.9795" stop-color="#4b68ae"/><stop offset="1.0000" stop-color="#4b68ae"/></linearGradient>
<linearGradient id="g112" x1="0" x2="1" y1="0" y2="0"><stop offset="0.0000" stop-color="#5e4fa2"/><stop offset="0.5205" stop-color="#5e4fa2"/><stop offset="0.5295" stop-color="#4f63ac"/><stop offset="0.7205" stop-color="#4f63ac"/><stop offset="0.7295" stop-color="#3f77b5"/><stop offset="0.7905" stop-color="#3f77b5"/><stop offset="0.7995" stop-color="#4f63ac"/><stop offset="1.0000" stop-color="#4f63ac"/></linearGradient>
<linearGradient id="g113" x1="0" x2="1" y1="0" y2="0"><stop offset="0.0000" stop-color="#5955a5"/><stop offset="0.5205" stop-color="#5955a5"/><stop offset="0.5295" stop-color="#4f63ac"/><stop offset="0.7205" stop-color="#4f63ac"/><stop offset="0.7295" stop-color="#3f77b5"/><stop offset="0.7905" stop-color="#3f77b5"/><stop offset="0.7995" stop-color="#4f63ac"/><stop offset="1.0000" stop-color="#4f63ac"/></linearGradient>
<linearGradient id="g114" x1="0" x2="1" y1="0" y2="0"><stop offset="0.0000" stop-color="#5955a5"/><stop offset="0.5205" stop-color="#5955a5"/><stop offset="0.5295" stop-color="#4b68ae"/><stop offset="1.0000" stop-color="#4b68ae"/></linearGradient>
<linearGradient id="g115" x1="0" x2="1" y1="0" y2="0"><stop offset="0.0000" stop-color="#5e4fa2"/><stop offset="0.5205" stop-color="#5e4fa2"/><stop offset="0.5295" stop-color="#4b68ae"/><stop offset="1.0000" stop-color="#4b68ae"/></linearGradient>
<linearGradient id="g116" x1="0" x2="1" y1="0" y2="0"><stop offset="0.0000" stop-color="#5857a6"/><stop offset="0.5205" stop-color="#5857a6"/><stop offset="0.5295" stop-color="#525ea9"/><stop offset="1.0000" stop-color="#525ea9"/></linearGradient>
<linearGradient id="g117" x1="0" x2="1" y1="0" y2="0"><stop offset="0.0000" stop-color="#5659a7"/><stop offset="0.5205" stop-color="#5659a7"/><stop offset="0.5295" stop-color="#525ea9"/><stop offset="1.0000" stop-color="#525ea9"/></linearGradient>
<linearGradient id="g118" x1="0" x2="1" y1="0" y2="0"><stop offset="0.0000" stop-color="#5659a7"/><stop offset="0.5205" stop-color="#5659a7"/><stop offset="0.5295" stop-color="#476db0"/><stop offset="1.0000" stop-color="#476db0"/></linearGradient>
<linearGradient id="g119" x1="0" x2="1" y1="0" y2="0"><stop offset="0.0000" stop-color="#525ea9"/><stop offset="0.5205" stop-color="#525ea9"/><stop offset="0.5295" stop-color="#3781ba"/><stop offset="0.5605" stop-color="#3781ba"/><stop offset="0.5695" stop-color="#48a1b3"/><stop offset="1.0000" stop-color="#48a1b3"/></linearGradient>
<linearGradient id="g120" x1="0" x2="1" y1="0" y2="0"><stop offset="0.0000" stop-color="#4f63ac"/><stop offset="0.2205" stop-color="#4f63ac"/><stop offset="0.2295" stop-color="#476db0"/><stop offset="0.5205" stop-color="#476db0"/><stop offset="0.5295" stop-color="#3f77b5"/><stop offset="1.0000" stop-color="#3f77b5"/></linearGradient>
<linearGradient id="g121" x1="0" x2="1" y1="0" y2="0"><stop offset="0.0000" stop-color="#476db0"/><stop offset="0.5205" stop-color="#476db0"/><stop offset="0.5295" stop-color="#3f77b5"/><stop offset="1.0000" stop-color="#3f77b5"/></linearGradient>
<linearGradient id="g122" x1="0" x2="1" y1="0" y2="0"><stop offset="0.0000" stop-color="#3781ba"/><stop offset="0.5205" stop-color="#3781ba"/><stop offset="0.5295" stop-color="#358cbb"/><stop offset="0.7705" stop-color="#358cbb"/><stop offset="0.7795" stop-color="#3f96b7"/><stop offset="1.0000" stop-color="#3f96b7"/></linearGradient>
<linearGradient id="g126" x1="0" x2="1" y1="0" y2="0"><stop offset="0.0000" stop-color="#52acae"/><stop offset="0.0305" stop-color="#52acae"/><stop offset="0.0395" stop-color="#9dd8a4"/><stop offset="0.1655" stop-color="#9dd8a4"/><stop offset="0.1745" stop-color="#52acae"/><stop offset="0.8355" stop-color="#52acae"/><stop offset="0.8445" stop-color="#74c7a5"/><stop offset="0.9105" stop-color="#74c7a5"/><stop offset="0.9195" stop-color="#52acae"/><stop offset="1.0000" stop-color="#52acae"/></linearGradient>
<linearGradient id="g128" x1="0" x2="1" y1="0" y2="0"><stop offset="0.0000" stop-color="#daf09a"/><stop offset="0.5555" stop-color="#daf09a"/><stop offset="0.5645" stop-color="#fec776"/><stop offset="0.7955" stop-color="#fec776"/><stop offset="0.8045" stop-color="#fba15b"/><stop offset="0.8405" stop-color="#fba15b"/><stop offset="0.8495" stop-color="#fed17e"/><stop offset="1.0000" stop-color="#fed17e"/></linearGradient>
<linearGradient id="g129" x1="0" x2="1" y1="0" y2="0"><stop offset="0.0000" stop-color="#4da6b0"/><stop offset="0.3305" stop-color="#4da6b0"/><stop offset="0.3395" stop-color="#eff9a6"/><stop offset="0.4955" stop-color="#eff9a6"/><stop offset="0.5045" stop-color="#b1dfa3"/><stop offset="1.0000" stop-color="#b1dfa3"/></linearGradient>
<linearGradient id="g130" x1="0" x2="1" y1="0" y2="0"><stop offset="0.0000" stop-color="#4da6b0"/><stop offset="0.3305" stop-color="#4da6b0"/><stop offset="0.3395" stop-color="#fdfebc"/><stop offset="0.4605" stop-color="#fdfebc"/><stop offset="0.4695" stop-color="#d53e4f"/><stop offset="0.5555" stop-color="#d53e4f"/><stop offset="0.5645" stop-color="#fed683"/><stop offset="0.7605" stop-color="#fed683"/><stop offset="0.7695" stop-color="#fdb869"/><stop offset="0.7955" stop-color="#fdb869"/><stop offset="0.8045" stop-color="#fed683"/><stop offset="1.0000" stop-color="#fed683"/></linearGradient>
<linearGradient id="g131" x1="0" x2="1" y1="0" y2="0"><stop offset="0.0000" stop-color="#b1dfa3"/><stop offset="0.3305" stop-color="#b1dfa3"/><stop offset="0.3395" stop-color="#fee08b"/><stop offset="0.4605" stop-color="#fee08b"/><stop offset="0.4695" stop-color="#b1dfa3"/><stop offset="1.0000" stop-color="#b1dfa3"/></linearGradient>
<linearGradient id="g132" x1="0" x2="1" y1="0" y2="0"><stop offset="0.0000" stop-color="#4da6b0"/><stop offset="0.2605" stop-color="#4da6b0"/><stop offset="0.2695" stop-color="#eff9a6"/><stop offset="0.3305" stop-color="#eff9a6"/><stop offset="0.3395" stop-color="#9dd8a4"/><stop offset="1.0000" stop-color="#9dd8a4"/></linearGradient>
<linearGradient id="g133" x1="0" x2="1" y1="0" y2="0"><stop offset="0.0000" stop-color="#4da6b0"/><stop offset="0.2605" stop-color="#4da6b0"/><stop offset="0.2695" stop-color="#eff9a6"/><stop offset="0.3305" stop-color="#eff9a6"/><stop offset="0.3395" stop-color="#5cb6aa"/><stop offset="1.0000" stop-color="#5cb6aa"/></linearGradient>
<linearGradient id="g134" x1="0" x2="1" y1="0" y2="0"><stop offset="0.0000" stop-color="#4da6b0"/><stop offset="0.2635" stop-color="#4da6b0"/><stop offset="0.2725" stop-color="#eff9a6"/><stop offset="0.3280" stop-color="#eff9a6"/><stop offset="0.3370" stop-color="#4da6b0"/><stop offset="0.4705" stop-color="#4da6b0"/><stop offset="0.4795" stop-color="#9dd8a4"/><stop offset="1.0000" stop-color="#9dd8a4"/></linearGradient>
<linearGradient id="g135" x1="0" x2="1" y1="0" y2="0"><stop offset="0.0000" stop-color="#3781ba"/><stop offset="0.0455" stop-color="#3781ba"/><stop offset="0.0545" stop-color="#449cb5"/><stop offset="0.6805" stop-color="#449cb5"/><stop offset="0.6895" stop-color="#9dd8a4"/><stop offset="0.7205" stop-color="#9dd8a4"/><stop offset="0.7295" stop-color="#4da6b0"/><stop offset="1.0000" stop-color="#4da6b0"/></linearGradient>
<linearGradient id="g136" x1="0" x2="1" y1="0" y2="0"><stop offset="0.0000" stop-color="#3781ba"/><stop offset="0.0455" stop-color="#3781ba"/><stop offset="0.0545" stop-color="#449cb5"/><stop offset="0.4705" stop-color="#449cb5"/><stop offset="0.4795" stop-color="#3781ba"/><stop offset="1.0000" stop-color="#3781ba"/></linearGradient>
<linearGradient id="g137" x1="0" x2="1" y1="0" y2="0"><stop offset="0.0000" stop-color="#9dd8a4"/><stop offset="0.2285" stop-color="#9dd8a4"/><stop offset="0.2375" stop-color="#eff9a6"/><stop offset="0.2635" stop-color="#eff9a6"/><stop offset="0.2725" stop-color="#a4daa4"/><stop offset="0.6455" stop-color="#a4daa4"/><stop offset="0.6545" stop-color="#daf09a"/><stop offset="0.6755" stop-color="#daf09a"/><stop offset="0.6845" stop-color="#52acae"/><stop offset="0.7355" stop-color="#52acae"/><stop offset="0.7445" stop-color="#66c2a5"/><stop offset="0.9805" stop-color="#66c2a5"/><stop offset="0.9895" stop-color="#52acae"/><stop offset="1.0000" stop-color="#52acae"/></linearGradient>
<linearGradient id="g138" x1="0" x2="1" y1="0" y2="0"><stop offset="0.0000" stop-color="#4da6b0"/><stop offset="0.5935" stop-color="#4da6b0"/><stop offset="0.6025" stop-color="#9dd8a4"/><stop offset="0.6455" stop-color="#9dd8a4"/><stop offset="0.6545" stop-color="#449cb5"/><stop offset="1.0000" stop-color="#449cb5"/></linearGradient>
<linearGradient id="g139" x1="0" x2="1" y1="0" y2="0"><stop offset="0.0000" stop-color="#48a1b3"/><stop offset="0.5405" stop-color="#48a1b3"/><stop offset="0.5495" stop-color="#9dd8a4"/><stop offset="0.5935" stop-color="#9dd8a4"/><stop offset="0.6025" stop-color="#358cbb"/><stop offset="1.0000" stop-color="#358cbb"/></linearGradient>
<linearGradient id="g140" x1="0" x2="1" y1="0" y2="0"><stop offset="0.0000" stop-color="#e7f599"/><stop offset="0.2340" stop-color="#e7f599"/><stop offset="0.2430" stop-color="#3a91b9"/><stop offset="0.2855" stop-color="#3a91b9"/><stop offset="0.2945" stop-color="#52acae"/><stop offset="0.5255" stop-color="#52acae"/><stop offset="0.5345" stop-color="#9dd8a4"/><stop offset="0.5405" stop-color="#9dd8a4"/><stop offset="0.5495" stop-color="#3781ba"/><stop offset="0.5905" stop-color="#3781ba"/><stop offset="0.5995" stop-color="#3781ba"/><stop offset="1.0000" stop-color="#3781ba"/></linearGradient>
<linearGradient id="g141" x1="0" x2="1" y1="0" y2="0"><stop offset="0.0000" stop-color="#3781ba"/><stop offset="0.0455" stop-color="#3781ba"/><stop offset="0.0545" stop-color="#449cb5"/><stop offset="0.5255" stop-color="#449cb5"/><stop offset="0.5345" stop-color="#3781ba"/><stop offset="1.0000" stop-color="#3781ba"/></linearGradient>
<linearGradient id="g142" x1="0" x2="1" y1="0" y2="0"><stop offset="0.0000" stop-color="#3781ba"/><stop offset="0.0455" stop-color="#3781ba"/><stop offset="0.0545" stop-color="#4da6b0"/><stop offset="0.2930" stop-color="#4da6b0"/><stop offset="0.3020" stop-color="#3781ba"/><stop offset="0.4805" stop-color="#3781ba"/><stop offset="0.4895" stop-color="#a4daa4"/><stop offset="1.0000" stop-color="#a4daa4"/></linearGradient>
<linearGradient id="g143" x1="0" x2="1" y1="0" y2="0"><stop offset="0.0000" stop-color="#3f77b5"/><stop offset="0.0455" stop-color="#3f77b5"/><stop offset="0.0545" stop-color="#4b68ae"/><stop offset="0.8205" stop-color="#4b68ae"/><stop offset="0.8295" stop-color="#5061aa"/><stop offset="1.0000" stop-color="#5061aa"/></linearGradient>
<linearGradient id="g144" x1="0" x2="1" y1="0" y2="0"><stop offset="0.0000" stop-color="#449cb5"/><stop offset="0.4705" stop-color="#449cb5"/><stop offset="0.4795" stop-color="#358cbb"/><stop offset="1.0000" stop-color="#358cbb"/></linearGradient>
<linearGradient id="g145" x1="0" x2="1" y1="0" y2="0"><stop offset="0.0000" stop-color="#66c2a5"/><stop offset="0.4275" stop-color="#66c2a5"/><stop offset="0.4365" stop-color="#eff9a6"/><stop offset="0.4805" stop-color="#eff9a6"/><stop offset="0.4895" stop-color="#e7f599"/><stop offset="1.0000" stop-color="#e7f599"/></linearGradient>
<linearGradient id="g146" x1="0" x2="1" y1="0" y2="0"><stop offset="0.0000" stop-color="#3781ba"/><stop offset="0.3105" stop-color="#3781ba"/><stop offset="0.3195" stop-color="#7bcaa5"/><stop offset="0.4275" stop-color="#7bcaa5"/><stop offset="0.4365" stop-color="#3781ba"/><stop offset="1.0000" stop-color="#3781ba"/></linearGradient>
<linearGradient id="g147" x1="0" x2="1" y1="0" y2="0"><stop offset="0.0000" stop-color="#3781ba"/><stop offset="0.2855" stop-color="#3781ba"/><stop offset="0.2945" stop-color="#9dd8a4"/><stop offset="0.3105" stop-color="#9dd8a4"/><stop offset="0.3195" stop-color="#3386bc"/><stop offset="1.0000" stop-color="#3386bc"/></linearGradient>
<linearGradient id="g148" x1="0" x2="1" y1="0" y2="0"><stop offset="0.0000" stop-color="#3781ba"/><stop offset="0.3395" stop-color="#3781ba"/><stop offset="0.3485" stop-color="#9dd8a4"/><stop offset="0.4395" stop-color="#9dd8a4"/><stop offset="0.4485" stop-color="#358cbb"/><stop offset="1.0000" stop-color="#358cbb"/></linearGradient>
<linearGradient id="g149" x1="0" x2="1" y1="0" y2="0"><stop offset="0.0000" stop-color="#3781ba"/><stop offset="0.2405" stop-color="#3781ba"/><stop offset="0.2495" stop-color="#9dd8a4"/><stop offset="0.2805" stop-color="#9dd8a4"/><stop offset="0.2895" stop-color="#358cbb"/><stop offset="1.0000" stop-color="#358cbb"/></linearGradient>
<linearGradient id="g150" x1="0" x2="1" y1="0" y2="0"><stop offset="0.0000" stop-color="#3a91b9"/><stop offset="0.1855" stop-color="#3a91b9"/><stop offset="0.1945" stop-color="#abdda4"/><stop offset="0.2405" stop-color="#abdda4"/><stop offset="0.2495" stop-color="#3a91b9"/><stop offset="0.2755" stop-color="#3a91b9"/><stop offset="0.2845" stop-color="#abdda4"/><stop offset="0.3405" stop-color="#abdda4"/><stop offset="0.3495" stop-color="#358cbb"/><stop offset="1.0000" stop-color="#358cbb"/></linearGradient>
<linearGradient id="g151" x1="0" x2="1" y1="0" y2="0"><stop offset="0.0000" stop-color="#3a91b9"/><stop offset="0.0290" stop-color="#3a91b9"/><stop offset="0.0380" stop-color="#9dd8a4"/><stop offset="0.1805" stop-color="#9dd8a4"/><stop offset="0.1895" stop-color="#358cbb"/><stop offset="1.0000" stop-color="#358cbb"/></linearGradient>
<linearGradient id="g152" x1="0" x2="1" y1="0" y2="0"><stop offset="0.0000" stop-color="#e7f599"/><stop offset="0.0290" stop-color="#e7f599"/><stop offset="0.0380" stop-color="#52acae"/><stop offset="1.0000" stop-color="#52acae"/></linearGradient>
<linearGradient id="g155" x1="0" x2="1" y1="0" y2="0"><stop offset="0.0000" stop-color="#3b7cb7"/><stop offset="0.4705" stop-color="#3b7cb7"/><stop offset="0.4795" stop-color="#4372b3"/><stop offset="1.0000" stop-color="#4372b3"/></linearGradient>
<linearGradient id="g156" x1="0" x2="1" y1="0" y2="0"><stop offset="0.0000" stop-color="#3781ba"/><stop offset="0.0005" stop-color="#3781ba"/><stop offset="0.0095" stop-color="#66c2a5"/><stop offset="0.2755" stop-color="#66c2a5"/><stop offset="0.2845" stop-color="#3781ba"/><stop offset="1.0000" stop-color="#3781ba"/></linearGradient>
<linearGradient id="g157" x1="0" x2="1" y1="0" y2="0"><stop offset="0.0000" stop-color="#3a91b9"/><stop offset="0.4705" stop-color="#3a91b9"/><stop offset="0.4795" stop-color="#3781ba"/><stop offset="1.0000" stop-color="#3781ba"/></linearGradient>
<linearGradient id="g161" x1="0" x2="1" y1="0" y2="0"><stop offset="0.0000" stop-color="#4da6b0"/><stop offset="0.5205" stop-color="#4da6b0"/><stop offset="0.5295" stop-color="#3781ba"/><stop offset="1.0000" stop-color="#3781ba"/></linearGradient>
<linearGradient id="g162" x1="0" x2="1" y1="0" y2="0"><stop offset="0.0000" stop-color="#3781ba"/><stop offset="0.4380" stop-color="#3781ba"/><stop offset="0.4470" stop-color="#a4daa4"/><stop offset="1.0000" stop-color="#a4daa4"/></linearGradient>
<linearGradient id="g167" x1="0" x2="1" y1="0" y2="0"><stop offset="0.0000" stop-color="#3781ba"/><stop offset="0.3517" stop-color="#3781ba"/><stop offset="0.3605" stop-color="#4da6b0"/><stop offset="0.5761" stop-color="#4da6b0"/><stop offset="0.5849" stop-color="#3781ba"/><stop offset="1.0000" stop-color="#3781ba"/></linearGradient>
<linearGradient id="g168" x1="0" x2="1" y1="0" y2="0"><stop offset="0.0000" stop-color="#4b68ae"/><stop offset="0.1176" stop-color="#4b68ae"/><stop offset="0.1263" stop-color="#3b7cb7"/><stop offset="1.0000" stop-color="#3b7cb7"/></linearGradient>
<linearGradient id="g169" x1="0" x2="1" y1="0" y2="0"><stop offset="0.0000" stop-color="#4b68ae"/><stop offset="0.0932" stop-color="#4b68ae"/><stop offset="0.1020" stop-color="#449cb5"/><stop offset="0.2541" stop-color="#449cb5"/><stop offset="0.2629" stop-color="#4ba4b2"/><stop offset="1.0000" stop-color="#4ba4b2"/></linearGradient>
<linearGradient id="g170" x1="0" x2="1" y1="0" y2="0"><stop offset="0.0000" stop-color="#525ea9"/><stop offset="0.1663" stop-color="#525ea9"/><stop offset="0.1751" stop-color="#4da6b0"/><stop offset="0.2493" stop-color="#4da6b0"/><stop offset="0.2580" stop-color="#358cbb"/><stop offset="1.0000" stop-color="#358cbb"/></linearGradient>
<linearGradient id="g171" x1="0" x2="1" y1="0" y2="0"><stop offset="0.0000" stop-color="#4b68ae"/><stop offset="0.1956" stop-color="#4b68ae"/><stop offset="0.2044" stop-color="#3b7cb7"/><stop offset="0.7420" stop-color="#3b7cb7"/><stop offset="0.7507" stop-color="#b1dfa3"/><stop offset="1.0000" stop-color="#b1dfa3"/></linearGradient>
<linearGradient id="g172" x1="0" x2="1" y1="0" y2="0"><stop offset="0.0000" stop-color="#4b68ae"/><stop offset="0.1956" stop-color="#4b68ae"/><stop offset="0.2044" stop-color="#3b7cb7"/><stop offset="0.3517" stop-color="#3b7cb7"/><stop offset="0.3605" stop-color="#3781ba"/><stop offset="0.4298" stop-color="#3781ba"/><stop offset="0.4385" stop-color="#476db0"/><stop offset="0.6346" stop-color="#476db0"/><stop offset="0.6434" stop-color="#5cb6aa"/><stop offset="0.7420" stop-color="#5cb6aa"/><stop offset="0.7507" stop-color="#3781ba"/><stop offset="1.0000" stop-color="#3781ba"/></linearGradient>
<linearGradient id="g173" x1="0" x2="1" y1="0" y2="0"><stop offset="0.0000" stop-color="#4f63ac"/><stop offset="0.3517" stop-color="#4f63ac"/><stop offset="0.3605" stop-color="#3781ba"/><stop offset="0.4298" stop-color="#3781ba"/><stop offset="0.4385" stop-color="#3b7cb7"/><stop offset="0.6005" stop-color="#3b7cb7"/><stop offset="0.6093" stop-color="#5cb6aa"/><stop offset="0.6346" stop-color="#5cb6aa"/><stop offset="0.6434" stop-color="#3b7cb7"/><stop offset="0.8980" stop-color="#3b7cb7"/><stop offset="0.9068" stop-color="#eff9a6"/><stop offset="1.0000" stop-color="#eff9a6"/></linearGradient>
<linearGradient id="g174" x1="0" x2="1" y1="0" y2="0"><stop offset="0.0000" stop-color="#525ea9"/><stop offset="0.5712" stop-color="#525ea9"/><stop offset="0.5800" stop-color="#4da6b0"/><stop offset="0.6005" stop-color="#4da6b0"/><stop offset="0.6093" stop-color="#3b7cb7"/><stop offset="0.6737" stop-color="#3b7cb7"/><stop offset="0.6824" stop-color="#eff9a6"/><stop offset="0.8980" stop-color="#eff9a6"/><stop offset="0.9068" stop-color="#3f77b5"/><stop offset="1.0000" stop-color="#3f77b5"/></linearGradient>
<linearGradient id="g175" x1="0" x2="1" y1="0" y2="0"><stop offset="0.0000" stop-color="#4b68ae"/><stop offset="0.5078" stop-color="#4b68ae"/><stop offset="0.5166" stop-color="#3f77b5"/><stop offset="1.0000" stop-color="#3f77b5"/></linearGradient>
<linearGradient id="g176" x1="0" x2="1" y1="0" y2="0"><stop offset="0.0000" stop-color="#3f77b5"/><stop offset="0.4688" stop-color="#3f77b5"/><stop offset="0.4776" stop-color="#9dd8a4"/><stop offset="0.5663" stop-color="#9dd8a4"/><stop offset="0.5751" stop-color="#3781ba"/><stop offset="1.0000" stop-color="#3781ba"/></linearGradient>
<linearGradient id="g177" x1="0" x2="1" y1="0" y2="0"><stop offset="0.0000" stop-color="#3b7cb7"/><stop offset="0.4444" stop-color="#3b7cb7"/><stop offset="0.4532" stop-color="#8fd2a4"/><stop offset="0.4737" stop-color="#8fd2a4"/><stop offset="0.4824" stop-color="#3b7cb7"/><stop offset="0.5859" stop-color="#3b7cb7"/><stop offset="0.5946" stop-color="#e7f599"/><stop offset="0.6590" stop-color="#e7f599"/><stop offset="0.6678" stop-color="#3b7cb7"/><stop offset="1.0000" stop-color="#3b7cb7"/></linearGradient>
<linearGradient id="g178" x1="0" x2="1" y1="0" y2="0"><stop offset="0.0000" stop-color="#4da6b0"/><stop offset="0.3712" stop-color="#4da6b0"/><stop offset="0.3800" stop-color="#358cbb"/><stop offset="0.4102" stop-color="#358cbb"/><stop offset="0.4190" stop-color="#b1dfa3"/><stop offset="0.4541" stop-color="#b1dfa3"/><stop offset="0.4629" stop-color="#3f96b7"/><stop offset="1.0000" stop-color="#3f96b7"/></linearGradient>
<linearGradient id="g179" x1="0" x2="1" y1="0" y2="0"><stop offset="0.0000" stop-color="#3781ba"/><stop offset="0.5810" stop-color="#3781ba"/><stop offset="0.5898" stop-color="#4b68ae"/><stop offset="0.6541" stop-color="#4b68ae"/><stop offset="0.6629" stop-color="#3781ba"/><stop offset="1.0000" stop-color="#3781ba"/></linearGradient>
<linearGradient id="g180" x1="0" x2="1" y1="0" y2="0"><stop offset="0.0000" stop-color="#358cbb"/><stop offset="0.2200" stop-color="#358cbb"/><stop offset="0.2288" stop-color="#ecf8a2"/><stop offset="0.5810" stop-color="#ecf8a2"/><stop offset="0.5898" stop-color="#4b68ae"/><stop offset="0.6541" stop-color="#4b68ae"/><stop offset="0.6629" stop-color="#5cb6aa"/><stop offset="0.7907" stop-color="#5cb6aa"/><stop offset="0.7995" stop-color="#bde4a0"/><stop offset="1.0000" stop-color="#bde4a0"/></linearGradient>
<linearGradient id="g181" x1="0" x2="1" y1="0" y2="0"><stop offset="0.0000" stop-color="#4da6b0"/><stop offset="0.4102" stop-color="#4da6b0"/><stop offset="0.4190" stop-color="#3781ba"/><stop offset="0.5029" stop-color="#3781ba"/><stop offset="0.5117" stop-color="#5cb6aa"/><stop offset="0.5810" stop-color="#5cb6aa"/><stop offset="0.5898" stop-color="#3781ba"/><stop offset="0.6541" stop-color="#3781ba"/><stop offset="0.6629" stop-color="#5cb6aa"/><stop offset="0.7859" stop-color="#5cb6aa"/><stop offset="0.7946" stop-color="#3781ba"/><stop offset="1.0000" stop-color="#3781ba"/></linearGradient>
<linearGradient id="g182" x1="0" x2="1" y1="0" y2="0"><stop offset="0.0000" stop-color="#358cbb"/><stop offset="0.1176" stop-color="#358cbb"/><stop offset="0.1263" stop-color="#3f77b5"/><stop offset="0.4102" stop-color="#3f77b5"/><stop offset="0.4190" stop-color="#4da6b0"/><stop offset="0.5029" stop-color="#4da6b0"/><stop offset="0.5117" stop-color="#3f77b5"/><stop offset="0.5420" stop-color="#3f77b5"/><stop offset="0.5507" stop-color="#9dd8a4"/><stop offset="0.6444" stop-color="#9dd8a4"/><stop offset="0.6532" stop-color="#3f77b5"/><stop offset="1.0000" stop-color="#3f77b5"/></linearGradient>
<linearGradient id="g183" x1="0" x2="1" y1="0" y2="0"><stop offset="0.0000" stop-color="#52acae"/><stop offset="0.1859" stop-color="#52acae"/><stop offset="0.1946" stop-color="#eff9a6"/><stop offset="0.2249" stop-color="#eff9a6"/><stop offset="0.2337" stop-color="#52acae"/><stop offset="0.2834" stop-color="#52acae"/><stop offset="0.2922" stop-color="#7bcaa5"/><stop offset="0.4102" stop-color="#7bcaa5"/><stop offset="0.4190" stop-color="#449cb5"/><stop offset="0.6980" stop-color="#449cb5"/><stop offset="0.7068" stop-color="#3f77b5"/><stop offset="1.0000" stop-color="#3f77b5"/></linearGradient>
<linearGradient id="g184" x1="0" x2="1" y1="0" y2="0"><stop offset="0.0000" stop-color="#7bcaa5"/><stop offset="0.1566" stop-color="#7bcaa5"/><stop offset="0.1654" stop-color="#9dd8a4"/><stop offset="0.2834" stop-color="#9dd8a4"/><stop offset="0.2922" stop-color="#52acae"/><stop offset="0.3956" stop-color="#52acae"/><stop offset="0.4044" stop-color="#e7f599"/><stop offset="0.5420" stop-color="#e7f599"/><stop offset="0.5507" stop-color="#52acae"/><stop offset="0.6980" stop-color="#52acae"/><stop offset="0.7068" stop-color="#358cbb"/><stop offset="1.0000" stop-color="#358cbb"/></linearGradient>
<linearGradient id="g185" x1="0" x2="1" y1="0" y2="0"><stop offset="0.0000" stop-color="#3a91b9"/><stop offset="0.0298" stop-color="#3a91b9"/><stop offset="0.0385" stop-color="#9dd8a4"/><stop offset="0.0639" stop-color="#9dd8a4"/><stop offset="0.0727" stop-color="#3a91b9"/><stop offset="1.0000" stop-color="#3a91b9"/></linearGradient>
<linearGradient id="g187" x1="0" x2="1" y1="0" y2="0"><stop offset="0.0000" stop-color="#feefa5"/><stop offset="0.1907" stop-color="#feefa5"/><stop offset="0.1995" stop-color="#9dd8a4"/><stop offset="0.3371" stop-color="#9dd8a4"/><stop offset="0.3459" stop-color="#eff9a6"/><stop offset="0.4005" stop-color="#eff9a6"/><stop offset="0.4093" stop-color="#9dd8a4"/><stop offset="0.6980" stop-color="#9dd8a4"/><stop offset="0.7068" stop-color="#66c2a5"/><stop offset="1.0000" stop-color="#66c2a5"/></linearGradient>
<linearGradient id="g188" x1="0" x2="1" y1="0" y2="0"><stop offset="0.0000" stop-color="#7bcaa5"/><stop offset="0.2834" stop-color="#7bcaa5"/><stop offset="0.2922" stop-color="#eff9a6"/><stop offset="0.3420" stop-color="#eff9a6"/><stop offset="0.3507" stop-color="#7bcaa5"/><stop offset="0.4102" stop-color="#7bcaa5"/><stop offset="0.4190" stop-color="#5cb6aa"/><stop offset="1.0000" stop-color="#5cb6aa"/></linearGradient>
<linearGradient id="g189" x1="0" x2="1" y1="0" y2="0"><stop offset="0.0000" stop-color="#4da6b0"/><stop offset="0.4102" stop-color="#4da6b0"/><stop offset="0.4190" stop-color="#3781ba"/><stop offset="1.0000" stop-color="#3781ba"/></linearGradient>
<linearGradient id="g190" x1="0" x2="1" y1="0" y2="0"><stop offset="0.0000" stop-color="#b1dfa3"/><stop offset="0.2493" stop-color="#b1dfa3"/><stop offset="0.2580" stop-color="#f8fcb4"/><stop offset="0.2883" stop-color="#f8fcb4"/><stop offset="0.2971" stop-color="#b1dfa3"/><stop offset="1.0000" stop-color="#b1dfa3"/></linearGradient>
<linearGradient id="g191" x1="0" x2="1" y1="0" y2="0"><stop offset="0.0000" stop-color="#fee08b"/><stop offset="0.0151" stop-color="#fee08b"/><stop offset="0.0239" stop-color="#ceeb9d"/><stop offset="1.0000" stop-color="#ceeb9d"/></linearGradient>
<linearGradient id="g192" x1="0" x2="1" y1="0" y2="0"><stop offset="0.0000" stop-color="#b1dfa3"/><stop offset="0.4200" stop-color="#b1dfa3"/><stop offset="0.4288" stop-color="#5cb6aa"/><stop offset="1.0000" stop-color="#5cb6aa"/></linearGradient>
<linearGradient id="g193" x1="0" x2="1" y1="0" y2="0"><stop offset="0.0000" stop-color="#feefa5"/><stop offset="0.4200" stop-color="#feefa5"/><stop offset="0.4288" stop-color="#eff9a6"/><stop offset="1.0000" stop-color="#eff9a6"/></linearGradient>
<linearGradient id="g194" x1="0" x2="1" y1="0" y2="0"><stop offset="0.0000" stop-color="#b1dfa3"/><stop offset="0.7176" stop-color="#b1dfa3"/><stop offset="0.7263" stop-color="#e7f599"/><stop offset="0.7859" stop-color="#e7f599"/><stop offset="0.7946" stop-color="#5cb6aa"/><stop offset="1.0000" stop-color="#5cb6aa"/></linearGradient>
<linearGradient id="g195" x1="0" x2="1" y1="0" y2="0"><stop offset="0.0000" stop-color="#bde4a0"/><stop offset="0.1566" stop-color="#bde4a0"/><stop offset="0.1654" stop-color="#eff9a6"/><stop offset="0.2493" stop-color="#eff9a6"/><stop offset="0.2580" stop-color="#b7e2a2"/><stop offset="0.7859" stop-color="#b7e2a2"/><stop offset="0.7946" stop-color="#5cb6aa"/><stop offset="1.0000" stop-color="#5cb6aa"/></linearGradient>
<linearGradient id="g197" x1="0" x2="1" y1="0" y2="0"><stop offset="0.0000" stop-color="#4da6b0"/><stop offset="0.1761" stop-color="#4da6b0"/><stop offset="0.1849" stop-color="#9dd8a4"/><stop offset="0.2688" stop-color="#9dd8a4"/><stop offset="0.2776" stop-color="#4da6b0"/><stop offset="0.6493" stop-color="#4da6b0"/><stop offset="0.6580" stop-color="#abdda4"/><stop offset="0.7127" stop-color="#abdda4"/><stop offset="0.7215" stop-color="#3781ba"/><stop offset="1.0000" stop-color="#3781ba"/></linearGradient>
<linearGradient id="g198" x1="0" x2="1" y1="0" y2="0"><stop offset="0.0000" stop-color="#3781ba"/><stop offset="0.5932" stop-color="#3781ba"/><stop offset="0.6020" stop-color="#9dd8a4"/><stop offset="0.6493" stop-color="#9dd8a4"/><stop offset="0.6580" stop-color="#3781ba"/><stop offset="1.0000" stop-color="#3781ba"/></linearGradient>
<linearGradient id="g199" x1="0" x2="1" y1="0" y2="0"><stop offset="0.0000" stop-color="#449cb5"/><stop offset="0.0639" stop-color="#449cb5"/><stop offset="0.0727" stop-color="#358cbb"/><stop offset="0.5644" stop-color="#358cbb"/><stop offset="0.5732" stop-color="#9dd8a4"/><stop offset="0.5956" stop-color="#9dd8a4"/><stop offset="0.6044" stop-color="#358cbb"/><stop offset="1.0000" stop-color="#358cbb"/></linearGradient>
<linearGradient id="g200" x1="0" x2="1" y1="0" y2="0"><stop offset="0.0000" stop-color="#358cbb"/><stop offset="0.1244" stop-color="#358cbb"/><stop offset="0.1332" stop-color="#e7f599"/><stop offset="0.1615" stop-color="#e7f599"/><stop offset="0.1702" stop-color="#358cbb"/><stop offset="0.5302" stop-color="#358cbb"/><stop offset="0.5390" stop-color="#abdda4"/><stop offset="0.5644" stop-color="#abdda4"/><stop offset="0.5732" stop-color="#358cbb"/><stop offset="1.0000" stop-color="#358cbb"/></linearGradient>
<linearGradient id="g201" x1="0" x2="1" y1="0" y2="0"><stop offset="0.0000" stop-color="#3a91b9"/><stop offset="0.5127" stop-color="#3a91b9"/><stop offset="0.5215" stop-color="#9dd8a4"/><stop offset="0.5322" stop-color="#9dd8a4"/><stop offset="0.5410" stop-color="#3a91b9"/><stop offset="1.0000" stop-color="#3a91b9"/></linearGradient>
<linearGradient id="g202" x1="0" x2="1" y1="0" y2="0"><stop offset="0.0000" stop-color="#3a91b9"/><stop offset="0.4932" stop-color="#3a91b9"/><stop offset="0.5020" stop-color="#9dd8a4"/><stop offset="0.5127" stop-color="#9dd8a4"/><stop offset="0.5215" stop-color="#3781ba"/><stop offset="0.6737" stop-color="#3781ba"/><stop offset="0.6824" stop-color="#476db0"/><stop offset="1.0000" stop-color="#476db0"/></linearGradient>
<linearGradient id="g203" x1="0" x2="1" y1="0" y2="0"><stop offset="0.0000" stop-color="#3781ba"/><stop offset="0.4883" stop-color="#3781ba"/><stop offset="0.4971" stop-color="#9dd8a4"/><stop offset="0.5029" stop-color="#9dd8a4"/><stop offset="0.5117" stop-color="#358cbb"/><stop offset="1.0000" stop-color="#358cbb"/></linearGradient>
<linearGradient id="g204" x1="0" x2="1" y1="0" y2="0"><stop offset="0.0000" stop-color="#3781ba"/><stop offset="0.2473" stop-color="#3781ba"/><stop offset="0.2561" stop-color="#9dd8a4"/><stop offset="0.4902" stop-color="#9dd8a4"/><stop offset="0.4990" stop-color="#3781ba"/><stop offset="1.0000" stop-color="#3781ba"/></linearGradient>
<linearGradient id="g205" x1="0" x2="1" y1="0" y2="0"><stop offset="0.0000" stop-color="#abdda4"/><stop offset="0.1273" stop-color="#abdda4"/><stop offset="0.1361" stop-color="#3781ba"/><stop offset="0.2249" stop-color="#3781ba"/><stop offset="0.2337" stop-color="#9dd8a4"/><stop offset="0.2473" stop-color="#9dd8a4"/><stop offset="0.2561" stop-color="#3781ba"/><stop offset="1.0000" stop-color="#3781ba"/></linearGradient>
<linearGradient id="g206" x1="0" x2="1" y1="0" y2="0"><stop offset="0.0000" stop-color="#4b68ae"/><stop offset="0.2249" stop-color="#4b68ae"/><stop offset="0.2337" stop-color="#525ea9"/><stop offset="0.8980" stop-color="#525ea9"/><stop offset="0.9068" stop-color="#4b68ae"/><stop offset="1.0000" stop-color="#4b68ae"/></linearGradient>
<linearGradient id="g207" x1="0" x2="1" y1="0" y2="0"><stop offset="0.0000" stop-color="#3781ba"/><stop offset="0.6961" stop-color="#3781ba"/><stop offset="0.7049" stop-color="#4b68ae"/><stop offset="0.8961" stop-color="#4b68ae"/><stop offset="0.9049" stop-color="#9dd8a4"/><stop offset="1.0000" stop-color="#9dd8a4"/></linearGradient>
<linearGradient id="g208" x1="0" x2="1" y1="0" y2="0"><stop offset="0.0000" stop-color="#daf09a"/><stop offset="0.2073" stop-color="#daf09a"/><stop offset="0.2161" stop-color="#4da6b0"/><stop offset="0.6961" stop-color="#4da6b0"/><stop offset="0.7049" stop-color="#3781ba"/><stop offset="1.0000" stop-color="#3781ba"/></linearGradient>
<linearGradient id="g209" x1="0" x2="1" y1="0" y2="0"><stop offset="0.0000" stop-color="#3781ba"/><stop offset="0.6961" stop-color="#3781ba"/><stop offset="0.7049" stop-color="#3d7ab6"/><stop offset="1.0000" stop-color="#3d7ab6"/></linearGradient>
<linearGradient id="g210" x1="0" x2="1" y1="0" y2="0"><stop offset="0.0000" stop-color="#3386bc"/><stop offset="0.6102" stop-color="#3386bc"/><stop offset="0.6190" stop-color="#b1dfa3"/><stop offset="0.8980" stop-color="#b1dfa3"/><stop offset="0.9068" stop-color="#3781ba"/><stop offset="1.0000" stop-color="#3781ba"/></linearGradient>
<linearGradient id="g211" x1="0" x2="1" y1="0" y2="0"><stop offset="0.0000" stop-color="#3781ba"/><stop offset="0.4151" stop-color="#3781ba"/><stop offset="0.4239" stop-color="#b1dfa3"/><stop offset="0.6073" stop-color="#b1dfa3"/><stop offset="0.6161" stop-color="#3781ba"/><stop offset="1.0000" stop-color="#3781ba"/></linearGradient>
<linearGradient id="g212" x1="0" x2="1" y1="0" y2="0"><stop offset="0.0000" stop-color="#4da6b0"/><stop offset="0.4151" stop-color="#4da6b0"/><stop offset="0.4239" stop-color="#48a1b3"/><stop offset="0.7020" stop-color="#48a1b3"/><stop offset="0.7107" stop-color="#3a91b9"/><stop offset="1.0000" stop-color="#3a91b9"/></linearGradient>
<linearGradient id="g214" x1="0" x2="1" y1="0" y2="0"><stop offset="0.0000" stop-color="#3d7ab6"/><stop offset="0.7020" stop-color="#3d7ab6"/><stop offset="0.7107" stop-color="#4372b3"/><stop offset="1.0000" stop-color="#4372b3"/></linearGradient>
<linearGradient id="g215" x1="0" x2="1" y1="0" y2="0"><stop offset="0.0000" stop-color="#358cbb"/><stop offset="0.7020" stop-color="#358cbb"/><stop offset="0.7107" stop-color="#3781ba"/><stop offset="1.0000" stop-color="#3781ba"/></linearGradient>
<linearGradient id="g216" x1="0" x2="1" y1="0" y2="0"><stop offset="0.0000" stop-color="#66c2a5"/><stop offset="0.2395" stop-color="#66c2a5"/><stop offset="0.2483" stop-color="#57b1ac"/><stop offset="0.7020" stop-color="#57b1ac"/><stop offset="0.7107" stop-color="#3386bc"/><stop offset="1.0000" stop-color="#3386bc"/></linearGradient>
<linearGradient id="g217" x1="0" x2="1" y1="0" y2="0"><stop offset="0.0000" stop-color="#4da6b0"/><stop offset="0.7020" stop-color="#4da6b0"/><stop offset="0.7107" stop-color="#3386bc"/><stop offset="1.0000" stop-color="#3386bc"/></linearGradient>
<linearGradient id="g218" x1="0" x2="1" y1="0" y2="0"><stop offset="0.0000" stop-color="#57b1ac"/><stop offset="0.7020" stop-color="#57b1ac"/><stop offset="0.7107" stop-color="#3386bc"/><stop offset="1.0000" stop-color="#3386bc"/></linearGradient>
<linearGradient id="g220" x1="0" x2="1" y1="0" y2="0"><stop offset="0.0000" stop-color="#8fd2a4"/><stop offset="0.4185" stop-color="#8fd2a4"/><stop offset="0.4273" stop-color="#3d7ab6"/><stop offset="1.0000" stop-color="#3d7ab6"/></linearGradient>
<linearGradient id="cbg" x1="0" x2="0" y1="0" y2="1"><stop offset="0.000" stop-color="#b13468"/><stop offset="0.025" stop-color="#bc406a"/><stop offset="0.050" stop-color="#c74c6d"/><stop offset="0.075" stop-color="#d25870"/><stop offset="0.100" stop-color="#dd6572"/><stop offset="0.125" stop-color="#e46e70"/><stop offset="0.150" stop-color="#ea776d"/><stop offset="0.175" stop-color="#f0816b"/><stop offset="0.200" stop-color="#f68a69"/><stop offset="0.225" stop-color="#f8976f"/><stop offset="0.250" stop-color="#faa475"/><stop offset="0.275" stop-color="#fcb17b"/><stop offset="0.300" stop-color="#fdbe81"/><stop offset="0.325" stop-color="#fec889"/><stop offset="0.350" stop-color="#fed291"/><stop offset="0.375" stop-color="#fedc9a"/><stop offset="0.400" stop-color="#fee6a2"/><stop offset="0.425" stop-color="#feecad"/><stop offset="0.450" stop-color="#fff3b7"/><stop offset="0.475" stop-color="#fff9c1"/><stop offset="0.500" stop-color="#ffffcc"/><stop offset="0.525" stop-color="#fafdc4"/><stop offset="0.550" stop-color="#f5fbbc"/><stop offset="0.575" stop-color="#f0f9b4"/><stop offset="0.600" stop-color="#ebf7ad"/><stop offset="0.625" stop-color="#dff2af"/><stop offset="0.650" stop-color="#d3edb1"/><stop offset="0.675" stop-color="#c8e9b4"/><stop offset="0.700" stop-color="#bce4b6"/><stop offset="0.725" stop-color="#aedeb6"/><stop offset="0.750" stop-color="#a0d9b7"/><stop offset="0.775" stop-color="#92d4b7"/><stop offset="0.800" stop-color="#85ceb7"/><stop offset="0.825" stop-color="#7ac3bc"/><stop offset="0.850" stop-color="#70b7c1"/><stop offset="0.875" stop-color="#65abc5"/><stop offset="0.900" stop-color="#5ba0ca"/><stop offset="0.925" stop-color="#6494c5"/><stop offset="0.950" stop-color="#6d89bf"/><stop offset="0.975" stop-color="#757eba"/><stop offset="1.000" stop-color="#7e72b5"/></linearGradient>
<filter id="bl" x="-5%" y="-5%" width="110%" height="110%"><feGaussianBlur stdDeviation="1.5 0.4"/></filter>
<clipPath id="ylc"><rect x="50.6" y="455" width="60" height="25"/></clipPath>
<clipPath id="clip"><rect x="110" y="117" width="785" height="351"/></clipPath>
</defs>
<text x="26.5" y="41.3" font-size="19.2" fill="#222" textLength="510" lengthAdjust="spacingAndGlyphs">BTC: Long-Term Holder Cost Basis Distribution Heatmap</text>
<circle cx="33" cy="69.8" r="2.4" fill="#000"/>
<text x="39" y="72.8" font-size="8.4" fill="#222" textLength="188" lengthAdjust="spacingAndGlyphs">BTC: Long-Term Holder Cost Basis Distribution Heatmap</text>
<g clip-path="url(#clip)">
<rect x="110" y="117" width="785" height="351" fill="#fff"/>
<g transform="translate(-2870.4,-1693.2) scale(3.62)"><g fill="none" stroke="#c8c8c8" stroke-width="2.5" ><circle cx="879.1" cy="547.05" r="5.7"/><circle cx="902.0" cy="547.05" r="5.7"/><circle cx="957.2" cy="547.05" r="5.85"/><circle cx="973.3" cy="547.05" r="5.8"/><path d="M885.2,540.9 V554.5 C885.2,557.6 882.7,558.1 879.6,558.1 C877.4,558.1 875.6,557.4 874.6,556.2"/><path d="M891.05,535.2 V553.9"/><path d="M907.8,540.9 V553.9"/><path d="M920.4,543.4 C919.6,542 918.2,541.3 916.6,541.3 C914.2,541.3 912.7,542.5 912.7,544.2 C912.7,546.1 914.6,546.6 916.7,547.1 C918.9,547.6 920.7,548.3 920.7,550.2 C920.7,551.9 919,552.8 916.7,552.8 C914.7,552.8 913.2,552 912.4,550.6"/><path d="M937.35,540.2 V553.9 M937.35,546.2 C937.35,543 939.5,541.3 942.2,541.3 C945,541.3 947.05,543 947.05,546.2 V553.9"/><path d="M979.4,535.5 V553.9"/><path d="M984.2,547 H995.8 A5.8,5.8 0 1 0 994.4,550.9"/><path d="M920.4,543.4 C919.6,542 918.2,541.3 916.6,541.3 C914.2,541.3 912.7,542.5 912.7,544.2 C912.7,546.1 914.6,546.6 916.7,547.1 C918.9,547.6 920.7,548.3 920.7,550.2 C920.7,551.9 919,552.8 916.7,552.8 C914.7,552.8 913.2,552 912.4,550.6" transform="translate(12.3,0)"/></g></g>
<g filter="url(#bl)" opacity="0.8" shape-rendering="crispEdges"><rect x="104" y="111" width="797" height="363" fill="#5e4fa2"/>
<rect x="105.0" y="300.00" width="195.0" height="3.00" fill="#5955a5"/>
<rect x="105.0" y="306.00" width="195.0" height="3.50" fill="#4f63ac"/>
<rect x="105.0" y="310.00" width="195.0" height="3.40" fill="#5c52a3"/>
<rect x="105.0" y="313.40" width="195.0" height="6.10" fill="#5659a7"/>
<rect x="105.0" y="319.50" width="195.0" height="6.10" fill="#3781ba"/>
<rect x="105.0" y="325.60" width="195.0" height="5.40" fill="#358cbb"/>
<rect x="105.0" y="331.00" width="195.0" height="6.50" fill="#469eb4"/>
<rect x="105.0" y="337.50" width="195.0" height="7.10" fill="#4372b3"/>
<rect x="105.0" y="344.60" width="195.0" height="7.40" fill="#5cb6aa"/>
<rect x="105.0" y="352.00" width="195.0" height="3.90" fill="#48a1b3"/>
<rect x="105.0" y="355.90" width="195.0" height="6.80" fill="#57b1ac"/>
<rect x="105.0" y="362.70" width="195.0" height="6.30" fill="#3781ba"/>
<rect x="105.0" y="369.00" width="195.0" height="4.00" fill="#4b68ae"/>
<rect x="105.0" y="373.00" width="195.0" height="2.90" fill="#3781ba"/>
<rect x="105.0" y="375.90" width="195.0" height="4.90" fill="#3f96b7"/>
<rect x="105.0" y="380.80" width="195.0" height="3.20" fill="#3781ba"/>
<rect x="105.0" y="384.00" width="195.0" height="4.70" fill="#3781ba"/>
<rect x="105.0" y="388.70" width="195.0" height="5.30" fill="url(#g17)"/>
<rect x="105.0" y="394.00" width="195.0" height="6.70" fill="#449cb5"/>
<rect x="105.0" y="400.70" width="195.0" height="5.00" fill="url(#g19)"/>
<rect x="105.0" y="405.70" width="195.0" height="2.90" fill="#449cb5"/>
<rect x="105.0" y="408.60" width="195.0" height="3.50" fill="url(#g21)"/>
<rect x="105.0" y="412.10" width="195.0" height="2.40" fill="url(#g22)"/>
<rect x="105.0" y="414.50" width="195.0" height="1.70" fill="url(#g23)"/>
<rect x="105.0" y="416.20" width="195.0" height="4.10" fill="url(#g24)"/>
<rect x="105.0" y="420.30" width="195.0" height="2.80" fill="url(#g25)"/>
<rect x="105.0" y="423.10" width="195.0" height="3.70" fill="url(#g26)"/>
<rect x="105.0" y="426.80" width="195.0" height="3.50" fill="url(#g27)"/>
<rect x="105.0" y="430.30" width="195.0" height="2.50" fill="#4da6b0"/>
<rect x="105.0" y="432.80" width="195.0" height="3.90" fill="url(#g29)"/>
<rect x="105.0" y="436.70" width="195.0" height="2.80" fill="url(#g30)"/>
<rect x="105.0" y="439.50" width="195.0" height="4.10" fill="url(#g31)"/>
<rect x="105.0" y="443.60" width="195.0" height="7.00" fill="url(#g32)"/>
<rect x="105.0" y="450.60" width="195.0" height="3.60" fill="url(#g33)"/>
<rect x="105.0" y="454.20" width="195.0" height="5.20" fill="#66c2a5"/>
<rect x="105.0" y="459.40" width="195.0" height="1.20" fill="#7bcaa5"/>
<rect x="105.0" y="460.60" width="195.0" height="4.10" fill="url(#g36)"/>
<rect x="105.0" y="464.70" width="195.0" height="3.30" fill="#daf09a"/>
<rect x="305.0" y="277.90" width="190.0" height="4.30" fill="url(#g38)"/>
<rect x="305.0" y="282.20" width="190.0" height="5.30" fill="url(#g39)"/>
<rect x="305.0" y="287.50" width="190.0" height="4.00" fill="url(#g40)"/>
<rect x="305.0" y="291.50" width="190.0" height="4.50" fill="url(#g41)"/>
<rect x="305.0" y="296.00" width="190.0" height="3.50" fill="url(#g42)"/>
<rect x="305.0" y="299.50" width="190.0" height="2.40" fill="url(#g43)"/>
<rect x="305.0" y="301.90" width="190.0" height="4.10" fill="url(#g44)"/>
<rect x="305.0" y="306.00" width="190.0" height="4.10" fill="url(#g45)"/>
<rect x="300.0" y="310.10" width="195.0" height="2.30" fill="url(#g46)"/>
<rect x="300.0" y="312.40" width="195.0" height="4.10" fill="url(#g47)"/>
<rect x="300.0" y="316.50" width="195.0" height="5.90" fill="url(#g48)"/>
<rect x="300.0" y="322.40" width="195.0" height="5.40" fill="url(#g49)"/>
<rect x="300.0" y="327.80" width="195.0" height="6.90" fill="url(#g50)"/>
<rect x="300.0" y="334.70" width="195.0" height="4.30" fill="url(#g51)"/>
<rect x="300.0" y="339.00" width="195.0" height="5.40" fill="#3781ba"/>
<rect x="300.0" y="344.40" width="195.0" height="7.90" fill="url(#g53)"/>
<rect x="300.0" y="352.30" width="195.0" height="6.40" fill="#3386bc"/>
<rect x="300.0" y="358.70" width="195.0" height="4.80" fill="url(#g55)"/>
<rect x="300.0" y="363.50" width="195.0" height="5.20" fill="#3781ba"/>
<rect x="300.0" y="368.70" width="195.0" height="5.00" fill="url(#g57)"/>
<rect x="300.0" y="373.70" width="195.0" height="2.30" fill="#358cbb"/>
<rect x="300.0" y="376.00" width="195.0" height="4.70" fill="url(#g59)"/>
<rect x="300.0" y="380.70" width="195.0" height="3.30" fill="#3781ba"/>
<rect x="300.0" y="384.00" width="195.0" height="3.50" fill="#3a91b9"/>
<rect x="300.0" y="387.50" width="195.0" height="5.90" fill="url(#g62)"/>
<rect x="300.0" y="393.40" width="195.0" height="4.60" fill="url(#g63)"/>
<rect x="300.0" y="398.00" width="195.0" height="4.00" fill="url(#g64)"/>
<rect x="300.0" y="402.00" width="195.0" height="3.50" fill="url(#g65)"/>
<rect x="300.0" y="405.50" width="195.0" height="3.30" fill="url(#g66)"/>
<rect x="300.0" y="408.80" width="195.0" height="3.30" fill="url(#g67)"/>
<rect x="300.0" y="412.10" width="195.0" height="3.50" fill="url(#g68)"/>
<rect x="300.0" y="415.60" width="195.0" height="3.60" fill="url(#g69)"/>
<rect x="300.0" y="419.20" width="195.0" height="3.70" fill="url(#g70)"/>
<rect x="300.0" y="422.90" width="195.0" height="3.10" fill="#52acae"/>
<rect x="300.0" y="426.00" width="195.0" height="4.30" fill="url(#g72)"/>
<rect x="300.0" y="430.30" width="195.0" height="2.90" fill="url(#g73)"/>
<rect x="300.0" y="433.20" width="195.0" height="3.50" fill="url(#g74)"/>
<rect x="300.0" y="436.70" width="195.0" height="3.50" fill="#74c7a5"/>
<rect x="300.0" y="440.20" width="195.0" height="3.80" fill="url(#g76)"/>
<rect x="300.0" y="443.70" width="195.0" height="6.90" fill="url(#g77)"/>
<rect x="300.0" y="450.60" width="195.0" height="3.60" fill="url(#g78)"/>
<rect x="300.0" y="454.20" width="195.0" height="6.10" fill="#74c7a5"/>
<rect x="300.0" y="460.30" width="195.0" height="4.20" fill="url(#g80)"/>
<rect x="300.0" y="464.50" width="195.0" height="3.50" fill="#ceeb9d"/>
<rect x="840.0" y="128.30" width="60.0" height="5.20" fill="url(#g82)"/>
<rect x="845.0" y="133.50" width="55.0" height="3.70" fill="url(#g83)"/>
<rect x="832.0" y="137.20" width="68.0" height="4.20" fill="url(#g84)"/>
<rect x="845.0" y="141.40" width="55.0" height="3.60" fill="url(#g85)"/>
<rect x="830.0" y="145.00" width="70.0" height="6.30" fill="url(#g86)"/>
<rect x="800.0" y="151.30" width="100.0" height="4.70" fill="#4f63ac"/>
<rect x="782.0" y="156.00" width="118.0" height="3.00" fill="url(#g88)"/>
<rect x="782.0" y="159.00" width="118.0" height="3.70" fill="url(#g89)"/>
<rect x="782.0" y="162.70" width="118.0" height="2.90" fill="url(#g90)"/>
<rect x="615.0" y="165.60" width="285.0" height="4.40" fill="url(#g91)"/>
<rect x="612.0" y="170.00" width="288.0" height="5.50" fill="url(#g92)"/>
<rect x="610.0" y="175.50" width="290.0" height="3.90" fill="url(#g93)"/>
<rect x="604.0" y="179.40" width="296.0" height="4.60" fill="url(#g94)"/>
<rect x="602.0" y="184.00" width="298.0" height="3.20" fill="url(#g95)"/>
<rect x="602.0" y="187.20" width="298.0" height="3.30" fill="url(#g96)"/>
<rect x="602.0" y="190.50" width="298.0" height="2.50" fill="url(#g97)"/>
<rect x="602.0" y="193.00" width="298.0" height="4.60" fill="url(#g98)"/>
<rect x="600.0" y="197.60" width="300.0" height="3.20" fill="url(#g99)"/>
<rect x="600.0" y="200.80" width="300.0" height="3.40" fill="url(#g100)"/>
<rect x="600.0" y="204.20" width="300.0" height="3.30" fill="url(#g101)"/>
<rect x="596.0" y="207.50" width="304.0" height="3.30" fill="url(#g102)"/>
<rect x="596.0" y="210.80" width="304.0" height="3.20" fill="url(#g103)"/>
<rect x="580.0" y="214.00" width="320.0" height="3.20" fill="url(#g104)"/>
<rect x="580.0" y="217.20" width="320.0" height="2.30" fill="url(#g105)"/>
<rect x="575.0" y="219.50" width="325.0" height="2.50" fill="url(#g106)"/>
<rect x="575.0" y="222.00" width="325.0" height="3.50" fill="url(#g107)"/>
<rect x="590.0" y="225.50" width="310.0" height="4.50" fill="url(#g108)"/>
<rect x="495.0" y="222.00" width="200.0" height="4.10" fill="url(#g109)"/>
<rect x="495.0" y="226.10" width="200.0" height="6.40" fill="url(#g110)"/>
<rect x="495.0" y="232.50" width="200.0" height="7.10" fill="url(#g111)"/>
<rect x="495.0" y="239.60" width="200.0" height="2.40" fill="url(#g112)"/>
<rect x="495.0" y="242.00" width="200.0" height="3.40" fill="url(#g113)"/>
<rect x="495.0" y="245.40" width="200.0" height="3.60" fill="url(#g114)"/>
<rect x="495.0" y="249.00" width="200.0" height="8.20" fill="url(#g115)"/>
<rect x="495.0" y="257.20" width="200.0" height="5.80" fill="url(#g116)"/>
<rect x="495.0" y="263.00" width="200.0" height="1.20" fill="url(#g117)"/>
<rect x="495.0" y="264.20" width="200.0" height="5.30" fill="url(#g118)"/>
<rect x="495.0" y="269.50" width="200.0" height="5.00" fill="url(#g119)"/>
<rect x="495.0" y="274.50" width="200.0" height="3.50" fill="url(#g120)"/>
<rect x="495.0" y="278.00" width="200.0" height="3.50" fill="url(#g121)"/>
<rect x="495.0" y="281.50" width="200.0" height="7.60" fill="url(#g122)"/>
<rect x="495.0" y="289.10" width="200.0" height="6.50" fill="#57b1ac"/>
<rect x="495.0" y="295.60" width="200.0" height="4.40" fill="#4da6b0"/>
<rect x="495.0" y="300.00" width="200.0" height="8.00" fill="#daf09a"/>
<rect x="495.0" y="308.00" width="200.0" height="6.30" fill="url(#g126)"/>
<rect x="495.0" y="314.30" width="200.0" height="2.40" fill="#daf09a"/>
<rect x="495.0" y="316.70" width="200.0" height="4.10" fill="url(#g128)"/>
<rect x="495.0" y="320.80" width="200.0" height="2.90" fill="url(#g129)"/>
<rect x="495.0" y="323.70" width="200.0" height="3.90" fill="url(#g130)"/>
<rect x="495.0" y="327.60" width="200.0" height="5.40" fill="url(#g131)"/>
<rect x="495.0" y="333.00" width="200.0" height="2.40" fill="url(#g132)"/>
<rect x="495.0" y="335.40" width="200.0" height="2.60" fill="url(#g133)"/>
<rect x="495.0" y="336.00" width="200.0" height="2.30" fill="url(#g134)"/>
<rect x="495.0" y="338.30" width="200.0" height="3.60" fill="url(#g135)"/>
<rect x="495.0" y="341.90" width="200.0" height="2.90" fill="url(#g136)"/>
<rect x="495.0" y="344.80" width="200.0" height="5.80" fill="url(#g137)"/>
<rect x="495.0" y="350.60" width="200.0" height="4.70" fill="url(#g138)"/>
<rect x="495.0" y="355.30" width="200.0" height="2.40" fill="url(#g139)"/>
<rect x="495.0" y="357.70" width="200.0" height="5.30" fill="url(#g140)"/>
<rect x="495.0" y="363.00" width="200.0" height="3.00" fill="url(#g141)"/>
<rect x="495.0" y="366.00" width="200.0" height="4.00" fill="url(#g142)"/>
<rect x="495.0" y="370.00" width="200.0" height="4.70" fill="url(#g143)"/>
<rect x="495.0" y="374.70" width="200.0" height="2.30" fill="url(#g144)"/>
<rect x="495.0" y="377.00" width="200.0" height="4.10" fill="url(#g145)"/>
<rect x="495.0" y="381.10" width="200.0" height="2.90" fill="url(#g146)"/>
<rect x="495.0" y="384.00" width="200.0" height="3.60" fill="url(#g147)"/>
<rect x="495.0" y="387.60" width="200.0" height="3.50" fill="url(#g148)"/>
<rect x="495.0" y="391.10" width="200.0" height="3.20" fill="url(#g149)"/>
<rect x="495.0" y="394.30" width="200.0" height="3.60" fill="url(#g150)"/>
<rect x="495.0" y="397.90" width="200.0" height="3.50" fill="url(#g151)"/>
<rect x="495.0" y="401.40" width="200.0" height="3.50" fill="url(#g152)"/>
<rect x="495.0" y="404.90" width="200.0" height="2.60" fill="#4da6b0"/>
<rect x="495.0" y="407.50" width="200.0" height="5.60" fill="#397fb9"/>
<rect x="495.0" y="413.10" width="200.0" height="5.90" fill="url(#g155)"/>
<rect x="495.0" y="419.00" width="200.0" height="4.00" fill="url(#g156)"/>
<rect x="495.0" y="423.00" width="200.0" height="2.50" fill="url(#g157)"/>
<rect x="495.0" y="425.50" width="200.0" height="7.50" fill="#66c2a5"/>
<rect x="495.0" y="433.00" width="200.0" height="5.60" fill="#52acae"/>
<rect x="495.0" y="438.60" width="200.0" height="5.00" fill="#5cb6aa"/>
<rect x="495.0" y="443.60" width="200.0" height="3.70" fill="url(#g161)"/>
<rect x="495.0" y="447.30" width="200.0" height="3.40" fill="url(#g162)"/>
<rect x="495.0" y="450.70" width="200.0" height="3.30" fill="#fee08b"/>
<rect x="495.0" y="454.00" width="200.0" height="7.50" fill="#66c2a5"/>
<rect x="495.0" y="461.50" width="200.0" height="3.20" fill="#3781ba"/>
<rect x="495.0" y="464.70" width="200.0" height="3.30" fill="#daf09a"/>
<rect x="695.0" y="225.00" width="205.0" height="4.50" fill="url(#g167)"/>
<rect x="695.0" y="229.50" width="205.0" height="5.50" fill="url(#g168)"/>
<rect x="695.0" y="235.00" width="205.0" height="8.20" fill="url(#g169)"/>
<rect x="695.0" y="243.20" width="205.0" height="4.10" fill="url(#g170)"/>
<rect x="695.0" y="247.30" width="205.0" height="2.90" fill="url(#g171)"/>
<rect x="695.0" y="250.20" width="205.0" height="3.50" fill="url(#g172)"/>
<rect x="695.0" y="253.70" width="205.0" height="3.50" fill="url(#g173)"/>
<rect x="695.0" y="257.20" width="205.0" height="4.10" fill="url(#g174)"/>
<rect x="695.0" y="261.30" width="205.0" height="3.50" fill="url(#g175)"/>
<rect x="695.0" y="264.80" width="205.0" height="3.20" fill="url(#g176)"/>
<rect x="695.0" y="268.00" width="205.0" height="3.60" fill="url(#g177)"/>
<rect x="695.0" y="271.60" width="205.0" height="3.20" fill="url(#g178)"/>
<rect x="695.0" y="274.80" width="205.0" height="3.50" fill="url(#g179)"/>
<rect x="695.0" y="278.30" width="205.0" height="4.10" fill="url(#g180)"/>
<rect x="695.0" y="282.40" width="205.0" height="3.10" fill="url(#g181)"/>
<rect x="695.0" y="285.50" width="205.0" height="3.50" fill="url(#g182)"/>
<rect x="695.0" y="289.00" width="205.0" height="3.30" fill="url(#g183)"/>
<rect x="695.0" y="292.30" width="205.0" height="3.80" fill="url(#g184)"/>
<rect x="695.0" y="296.10" width="205.0" height="3.50" fill="url(#g185)"/>
<rect x="695.0" y="299.60" width="205.0" height="2.90" fill="#4da6b0"/>
<rect x="695.0" y="302.50" width="205.0" height="4.70" fill="url(#g187)"/>
<rect x="695.0" y="307.20" width="205.0" height="2.90" fill="url(#g188)"/>
<rect x="695.0" y="310.10" width="205.0" height="4.10" fill="url(#g189)"/>
<rect x="695.0" y="314.20" width="205.0" height="3.00" fill="url(#g190)"/>
<rect x="695.0" y="317.20" width="205.0" height="4.30" fill="url(#g191)"/>
<rect x="695.0" y="321.50" width="205.0" height="2.40" fill="url(#g192)"/>
<rect x="695.0" y="323.90" width="205.0" height="4.40" fill="url(#g193)"/>
<rect x="695.0" y="328.30" width="205.0" height="2.90" fill="url(#g194)"/>
<rect x="695.0" y="331.20" width="205.0" height="3.50" fill="url(#g195)"/>
<rect x="695.0" y="334.70" width="205.0" height="3.60" fill="#5cb6aa"/>
<rect x="695.0" y="338.30" width="205.0" height="3.20" fill="url(#g197)"/>
<rect x="695.0" y="341.50" width="205.0" height="3.50" fill="url(#g198)"/>
<rect x="695.0" y="345.00" width="205.0" height="3.50" fill="url(#g199)"/>
<rect x="695.0" y="348.50" width="205.0" height="3.80" fill="url(#g200)"/>
<rect x="695.0" y="352.30" width="205.0" height="3.30" fill="url(#g201)"/>
<rect x="695.0" y="355.60" width="205.0" height="4.10" fill="url(#g202)"/>
<rect x="695.0" y="359.70" width="205.0" height="3.20" fill="url(#g203)"/>
<rect x="695.0" y="362.90" width="205.0" height="3.20" fill="url(#g204)"/>
<rect x="695.0" y="366.10" width="205.0" height="3.50" fill="url(#g205)"/>
<rect x="695.0" y="369.60" width="205.0" height="3.60" fill="url(#g206)"/>
<rect x="695.0" y="373.20" width="205.0" height="3.50" fill="url(#g207)"/>
<rect x="695.0" y="376.70" width="205.0" height="3.80" fill="url(#g208)"/>
<rect x="695.0" y="380.50" width="205.0" height="13.70" fill="url(#g209)"/>
<rect x="695.0" y="394.20" width="205.0" height="3.80" fill="url(#g210)"/>
<rect x="695.0" y="398.00" width="205.0" height="3.40" fill="url(#g211)"/>
<rect x="695.0" y="401.40" width="205.0" height="4.30" fill="url(#g212)"/>
<rect x="695.0" y="405.70" width="205.0" height="1.30" fill="#358cbb"/>
<rect x="695.0" y="407.00" width="205.0" height="17.50" fill="url(#g214)"/>
<rect x="695.0" y="424.50" width="205.0" height="2.30" fill="url(#g215)"/>
<rect x="695.0" y="426.80" width="205.0" height="6.50" fill="url(#g216)"/>
<rect x="695.0" y="433.30" width="205.0" height="2.90" fill="url(#g217)"/>
<rect x="695.0" y="436.20" width="205.0" height="7.00" fill="url(#g218)"/>
<rect x="695.0" y="443.20" width="205.0" height="3.50" fill="#3781ba"/>
<rect x="695.0" y="446.70" width="205.0" height="3.60" fill="url(#g220)"/>
<rect x="695.0" y="450.30" width="205.0" height="3.70" fill="#fee695"/>
<rect x="695.0" y="454.00" width="205.0" height="8.00" fill="#5cb6aa"/>
<rect x="695.0" y="462.00" width="205.0" height="3.00" fill="#3781ba"/>
<rect x="695.0" y="465.00" width="205.0" height="3.00" fill="#daf09a"/></g>
<polyline fill="none" stroke="#000" stroke-width="2.1" stroke-linejoin="round" stroke-linecap="round" points="110.2,435.4 111.7,433.0 113.3,438.3 113.6,444.0 115.2,444.0 116.5,445.6 117.5,458.4 118.4,456.4 120.3,454.5 121.7,444.0 122.8,441.2 124.1,440.2 125.1,435.4 126.6,433.5 128.0,435.4 129.3,433.5 130.8,434.9 132.4,436.4 133.7,435.4 134.6,428.8 135.6,419.2 136.6,409.7 137.5,403.9 138.8,401.1 139.6,391.5 140.8,389.6 141.9,381.0 142.7,379.1 144.2,378.1 146.1,379.1 148.4,377.6 150.3,381.0 151.8,384.8 153.4,382.0 154.7,378.1 155.3,369.5 155.7,356.0 157.3,331.1 158.0,325.4 159.5,327.3 161.1,325.4 161.8,317.7 163.0,299.6 163.8,313.9 164.9,308.2 166.2,302.5 167.6,298.6 168.7,296.7 170.1,285.3 171.4,282.4 172.5,279.5 173.7,285.3 174.8,296.7 175.8,311.1 176.7,298.6 177.9,308.2 179.0,325.4 180.2,300.6 181.1,313.9 182.5,319.7 184.0,310.1 185.3,292.9 187.2,292.0 188.8,289.1 190.1,292.9 191.6,287.2 193.0,294.8 194.3,310.1 195.8,298.6 197.7,296.7 199.3,291.0 200.6,285.3 201.9,292.9 203.1,291.0 204.4,296.7 205.4,302.5 206.3,311.1 207.3,315.8 208.8,319.7 210.2,330.2 211.5,320.6 213.4,316.8 214.9,311.1 215.9,305.3 216.8,308.2 218.4,314.9 219.7,316.8 221.0,319.7 222.6,320.6 223.5,323.5 224.5,333.0 225.6,344.5 226.5,329.2 227.9,320.6 229.2,317.7 230.7,321.6 232.3,329.2 233.6,323.5 234.5,329.2 236.1,332.1 237.4,327.3 238.8,326.3 239.9,313.9 240.7,308.2 241.8,308.2 243.1,305.3 244.1,305.3 245.1,292.9 246.0,286.2 247.0,290.1 247.9,296.7 248.9,300.6 250.2,295.8 251.7,296.7 253.3,294.8 254.6,298.6 255.6,300.6 257.1,302.5 258.4,301.5 259.8,297.7 261.3,291.0 262.8,287.2 264.2,288.1 265.5,294.8 267.0,293.9 268.5,296.7 269.9,300.6 271.2,303.4 272.7,307.2 274.3,306.3 275.6,308.2 277.0,312.0 278.5,314.9 280.0,315.8 281.3,318.7 282.3,323.5 283.3,334.9 284.2,330.2 285.7,333.0 287.1,331.1 288.4,334.0 289.6,325.4 290.9,322.5 292.2,327.3 293.4,336.8 294.5,346.4 295.7,352.1 296.8,348.3 297.6,356.9 298.7,350.2 299.9,348.3 301.4,346.4 302.9,344.5 304.2,333.0 305.3,318.7 306.7,313.0 308.0,315.8 309.2,316.8 309.9,306.3 311.1,302.5 312.4,300.6 313.8,304.4 315.3,310.1 316.8,309.2 317.6,301.5 318.7,299.6 320.1,300.6 321.4,306.3 322.5,311.1 323.9,314.9 324.8,322.5 325.8,331.1 326.7,338.8 327.7,354.0 328.6,363.6 329.8,358.8 330.9,350.2 331.7,329.2 332.8,331.1 334.0,334.0 334.8,340.7 335.9,335.9 337.2,334.9 338.2,339.7 339.2,346.4 340.1,342.6 341.6,340.7 343.0,341.6 344.3,340.7 345.5,333.0 346.8,332.1 347.7,319.7 349.3,316.8 350.4,317.7 351.6,327.3 352.5,339.7 353.9,340.7 355.4,340.7 356.9,344.5 357.7,348.3 358.8,341.6 360.2,346.4 361.5,350.2 362.6,359.8 363.8,367.4 364.9,363.6 365.9,354.0 366.8,350.2 368.4,349.3 369.7,339.7 371.0,334.0 372.2,336.8 373.5,344.5 374.9,334.9 376.0,327.3 377.3,321.6 378.7,320.0 380.0,319.3 381.7,318.8 382.6,316.9 383.6,319.8 384.5,314.0 385.5,310.2 386.8,309.3 388.0,314.0 388.8,321.7 389.9,331.2 391.2,334.1 392.6,329.3 394.1,326.4 395.6,323.6 397.0,326.4 398.3,329.3 399.4,335.0 400.6,327.4 401.7,323.6 403.3,321.7 404.0,310.2 405.2,303.5 406.5,301.6 407.8,299.7 409.4,297.2 410.5,296.8 411.7,301.6 412.8,305.4 414.2,300.7 415.1,306.4 416.1,307.3 417.0,303.5 418.0,298.8 418.9,291.1 420.1,282.5 420.8,281.2 421.8,287.3 422.7,293.0 423.9,294.9 425.0,296.8 426.2,300.7 427.0,294.9 428.1,279.7 429.0,270.1 430.4,266.3 431.9,264.4 432.7,254.8 433.3,241.5 433.9,224.1 435.0,221.7 436.1,217.8 437.1,221.7 437.7,226.4 438.6,215.5 439.7,217.8 440.8,218.6 442.1,213.1 443.3,206.9 444.4,197.5 445.5,191.3 446.8,192.0 448.0,195.9 449.1,205.3 450.2,211.6 451.4,200.6 452.7,197.5 454.3,196.7 455.8,197.5 456.9,199.8 458.0,197.5 458.9,192.8 460.0,195.2 461.1,188.9 462.4,185.8 463.3,185.0 464.3,191.3 465.2,196.7 466.3,188.9 467.4,185.8 468.3,184.2 469.4,183.4 470.2,178.8 471.1,172.5 472.4,170.2 473.3,172.5 474.1,180.3 474.9,192.8 476.1,195.2 477.2,196.7 478.3,201.4 479.6,203.0 480.7,193.6 481.4,190.5 482.4,193.6 483.5,204.5 484.6,202.2 485.5,206.1 486.6,210.0 487.7,206.9 488.9,200.6 490.2,194.4 491.8,192.8 492.8,192.0 493.6,187.3 494.4,181.9 495.2,191.3 496.1,198.3 497.1,205.3 498.0,210.0 499.1,203.8 500.7,204.5 502.2,204.5 503.3,199.1 504.3,189.7 505.3,187.3 506.1,178.8 507.1,174.8 508.0,177.2 508.9,181.9 509.7,175.6 510.5,170.9 511.6,174.8 512.7,175.6 513.9,174.1 515.2,175.6 516.3,179.5 517.4,182.7 518.7,178.4 520.0,174.5 521.2,179.3 522.5,189.8 523.5,194.6 524.6,184.1 525.7,193.6 527.3,197.4 529.2,198.4 531.1,198.4 532.6,195.5 533.4,199.4 534.5,194.6 535.9,195.5 537.2,194.6 538.7,198.4 540.2,199.4 541.6,195.5 542.5,192.7 543.5,196.5 544.8,198.4 546.0,199.4 547.3,212.7 548.3,228.0 549.2,237.5 550.2,236.6 551.7,236.6 552.5,222.3 553.6,204.1 554.4,212.7 555.1,229.9 556.3,216.5 557.4,218.4 558.6,226.1 559.7,230.8 560.9,241.3 562.0,257.6 563.1,245.2 564.3,240.4 565.4,247.1 566.6,238.5 567.7,236.6 568.9,238.5 570.2,236.6 571.5,229.9 572.7,237.5 574.0,235.6 575.4,230.8 576.9,227.0 578.8,227.0 580.3,228.9 581.7,235.6 583.0,242.3 584.5,243.2 586.0,235.6 587.4,240.4 588.7,238.5 590.2,245.2 591.2,258.5 592.2,254.7 593.1,266.1 594.1,258.5 595.0,244.2 596.0,249.0 596.9,237.5 598.3,235.6 599.8,238.5 601.3,236.6 603.2,236.6 605.1,234.7 606.5,231.8 607.8,218.4 608.8,206.8 610.3,204.9 611.7,203.0 613.0,204.9 614.5,203.0 616.1,204.0 617.4,200.2 618.4,196.3 619.9,198.2 621.2,203.0 622.6,201.1 624.1,195.4 625.0,184.9 626.4,177.3 627.5,174.4 628.9,177.3 630.2,175.3 631.7,176.3 633.2,177.3 634.6,176.3 635.9,169.6 637.1,170.6 638.4,165.8 639.4,160.1 640.5,155.3 641.3,158.2 642.2,165.8 643.5,161.0 645.1,162.0 646.6,165.8 647.9,171.5 649.3,175.3 650.8,173.4 652.3,171.5 653.7,172.5 655.0,175.3 656.1,183.0 657.5,173.4 658.8,170.6 660.0,161.0 661.1,159.1 662.3,163.9 663.2,169.6 664.5,171.5 666.1,170.6 667.6,171.5 668.9,175.3 670.3,174.4 671.8,178.2 673.3,182.0 674.1,184.9 675.2,174.4 676.6,168.7 678.5,166.8 680.4,166.8 681.7,165.8 682.9,169.6 684.2,166.8 685.2,162.0 686.7,162.9 688.0,163.9 689.9,163.9 691.3,162.9 692.4,153.4 693.2,144.8 694.3,140.0 695.6,139.1 697.0,136.2 698.1,135.3 699.5,138.1 701.5,138.0 702.9,139.9 704.2,139.0 705.7,135.1 707.3,138.0 708.6,139.9 709.9,139.0 711.5,136.1 713.0,139.0 714.3,139.0 715.6,143.7 716.8,149.4 718.1,152.3 719.5,148.5 721.0,146.6 722.5,143.7 723.9,140.9 724.8,141.8 726.3,138.0 727.7,136.1 728.6,132.3 729.8,126.5 730.5,132.3 731.5,138.0 732.8,139.9 734.4,140.9 735.5,145.6 736.6,150.4 737.8,151.4 739.1,143.7 740.5,148.5 741.6,152.3 742.9,158.0 744.3,155.2 745.8,153.3 746.9,159.0 748.1,163.8 749.6,162.8 750.6,159.0 751.9,156.1 753.4,157.1 755.0,158.0 756.5,156.1 758.2,154.2 759.5,150.4 760.7,146.6 762.0,144.7 763.9,145.6 765.3,143.7 766.8,142.8 768.3,141.8 769.7,144.7 771.0,146.6 772.5,149.4 773.7,152.3 774.8,151.4 776.0,158.0 777.1,161.8 778.2,159.9 779.8,152.3 781.1,147.5 782.1,141.8 783.2,134.2 784.4,130.4 785.5,127.5 786.8,125.6 787.8,123.7 788.7,127.5 789.7,128.5 790.6,127.5 791.6,132.3 792.6,141.8 793.5,155.2 794.5,149.4 795.4,146.6 796.9,151.4 798.3,160.9 799.2,166.6 800.3,168.4 801.7,165.6 803.0,158.9 804.2,160.8 804.9,165.6 806.1,159.8 807.4,156.0 808.8,152.2 809.9,148.4 811.2,150.3 812.6,155.1 813.7,162.7 815.1,159.8 816.4,158.9 817.5,159.8 818.7,168.4 819.8,180.8 820.8,182.7 821.7,178.9 823.3,180.8 824.6,176.1 825.6,171.3 827.1,178.0 828.4,185.6 829.4,192.3 830.3,201.8 831.7,200.9 832.8,205.7 834.0,210.4 835.1,212.3 836.1,219.0 837.0,226.7 838.2,234.3 839.3,235.3 840.5,228.6 841.2,224.8 842.4,223.8 843.7,217.1 845.0,214.3 846.6,215.2 848.1,218.1 848.9,230.5 850.0,215.2 850.8,208.5 851.9,211.4 853.3,220.0 854.6,218.1 856.1,213.3 857.3,210.4 858.6,211.4 859.9,216.2 861.5,219.0 862.8,224.8 863.8,228.6 864.9,225.7 866.0,230.5 867.2,232.4 868.5,225.7 869.9,222.9 871.4,223.8 872.9,226.3 874.3,227.1 875.6,225.7 877.1,226.7 878.7,224.8 880.0,226.7 881.3,223.8 882.5,220.0 883.8,217.1 885.1,212.3 886.3,206.6 887.4,210.4 888.6,214.3 890.1,216.2 891.4,217.1 892.8,216.2 893.9,211.4 894.7,201.8"/>
</g>
<g font-size="9" fill="#555"><text x="58.6" y="167.7" textLength="37.0" lengthAdjust="spacingAndGlyphs">108.239K</text><text x="63.1" y="196.0" textLength="32.5" lengthAdjust="spacingAndGlyphs">98.239K</text><text x="63.1" y="227.4" textLength="32.5" lengthAdjust="spacingAndGlyphs">88.239K</text><text x="63.1" y="262.5" textLength="32.5" lengthAdjust="spacingAndGlyphs">78.239K</text><text x="63.1" y="302.4" textLength="32.5" lengthAdjust="spacingAndGlyphs">68.239K</text><text x="63.1" y="348.7" textLength="32.5" lengthAdjust="spacingAndGlyphs">58.239K</text><text x="63.1" y="403.7" textLength="32.5" lengthAdjust="spacingAndGlyphs">48.239K</text><text x="42.3" y="471.1" textLength="53.1" lengthAdjust="spacingAndGlyphs" clip-path="url(#ylc)">38.2389209K</text></g>
<g stroke="#e6e6e6" stroke-width="1"><line x1="160.0" y1="468" x2="160.0" y2="476" /><line x1="226.0" y1="468" x2="226.0" y2="476" /><line x1="292.0" y1="468" x2="292.0" y2="476" /><line x1="358.0" y1="468" x2="358.0" y2="476" /><line x1="423.5" y1="468" x2="423.5" y2="476" /><line x1="488.5" y1="468" x2="488.5" y2="476" /><line x1="553.0" y1="468" x2="553.0" y2="476" /><line x1="619.0" y1="468" x2="619.0" y2="476" /><line x1="685.0" y1="468" x2="685.0" y2="476" /><line x1="751.0" y1="468" x2="751.0" y2="476" /><line x1="816.0" y1="468" x2="816.0" y2="476" /><line x1="882.0" y1="468" x2="882.0" y2="476" /></g>
<g font-size="10.6" fill="#555"><text x="160.0" y="490" text-anchor="middle">Mar '24</text><text x="226.0" y="490" text-anchor="middle">May '24</text><text x="292.0" y="490" text-anchor="middle">Jul '24</text><text x="358.0" y="490" text-anchor="middle">Sep '24</text><text x="423.5" y="490" text-anchor="middle">Nov '24</text><text x="488.5" y="490" text-anchor="middle">Jan '25</text><text x="553.0" y="490" text-anchor="middle">Mar '25</text><text x="619.0" y="490" text-anchor="middle">May '25</text><text x="685.0" y="490" text-anchor="middle">Jul '25</text><text x="751.0" y="490" text-anchor="middle">Sep '25</text><text x="816.0" y="490" text-anchor="middle">Nov '25</text><text x="882.0" y="490" text-anchor="middle">Jan '26</text></g>
<rect x="947" y="159.7" width="16" height="308" fill="url(#cbg)"/>
<text x="954.5" y="126.7" font-size="7.6" fill="#444" text-anchor="middle">Supply</text>
<text x="955" y="149" font-size="7.2" fill="#333" text-anchor="middle">448 K</text>
<text x="955" y="485.2" font-size="8.4" fill="#333" text-anchor="middle">0</text>
<text x="25" y="550.8" font-size="13" fill="#8a8a8a" textLength="228.5" lengthAdjust="spacingAndGlyphs">© 2026 Glassnode. All Rights Reserved.</text>
<g fill="none" stroke="#111" stroke-width="2.4" ><circle cx="879.1" cy="547.05" r="5.7"/><circle cx="902.0" cy="547.05" r="5.7"/><circle cx="957.2" cy="547.05" r="5.85"/><circle cx="973.3" cy="547.05" r="5.8"/><path d="M885.2,540.9 V554.5 C885.2,557.6 882.7,558.1 879.6,558.1 C877.4,558.1 875.6,557.4 874.6,556.2"/><path d="M891.05,535.2 V553.9"/><path d="M907.8,540.9 V553.9"/><path d="M920.4,543.4 C919.6,542 918.2,541.3 916.6,541.3 C914.2,541.3 912.7,542.5 912.7,544.2 C912.7,546.1 914.6,546.6 916.7,547.1 C918.9,547.6 920.7,548.3 920.7,550.2 C920.7,551.9 919,552.8 916.7,552.8 C914.7,552.8 913.2,552 912.4,550.6"/><path d="M937.35,540.2 V553.9 M937.35,546.2 C937.35,543 939.5,541.3 942.2,541.3 C945,541.3 947.05,543 947.05,546.2 V553.9"/><path d="M979.4,535.5 V553.9"/><path d="M984.2,547 H995.8 A5.8,5.8 0 1 0 994.4,550.9"/><path d="M920.4,543.4 C919.6,542 918.2,541.3 916.6,541.3 C914.2,541.3 912.7,542.5 912.7,544.2 C912.7,546.1 914.6,546.6 916.7,547.1 C918.9,547.6 920.7,548.3 920.7,550.2 C920.7,551.9 919,552.8 916.7,552.8 C914.7,552.8 913.2,552 912.4,550.6" transform="translate(12.3,0)"/></g>
</svg>
</body></html>
